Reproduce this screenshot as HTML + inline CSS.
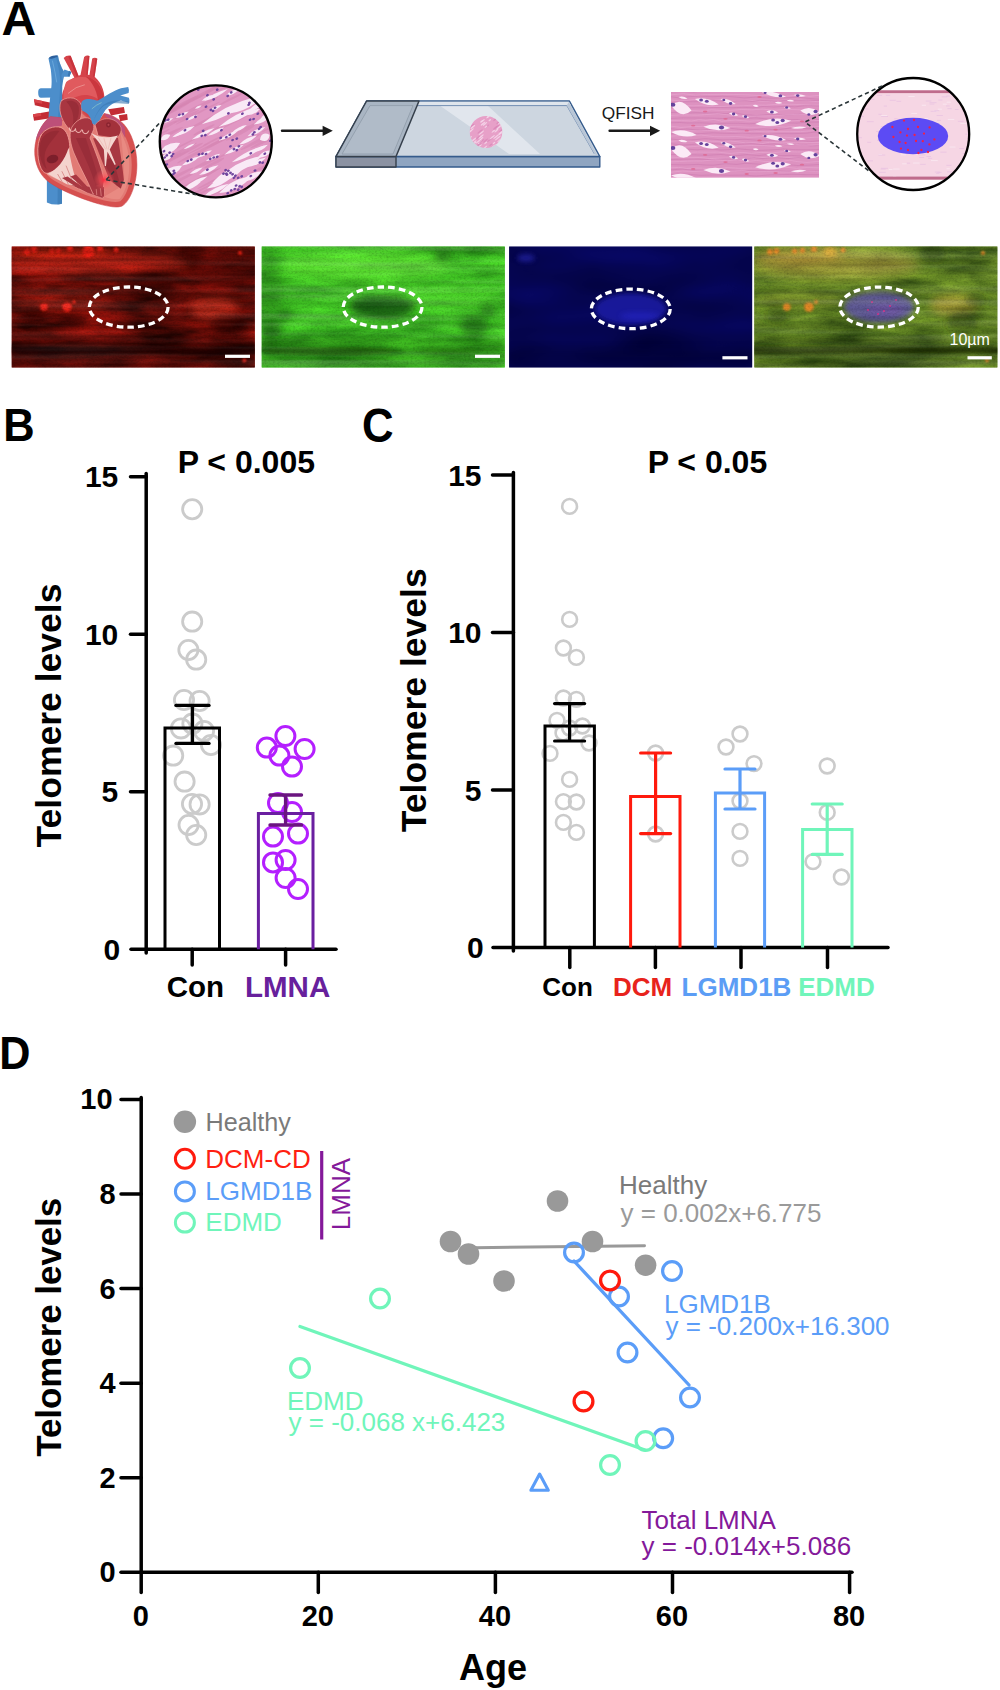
<!DOCTYPE html>
<html lang="en"><head><meta charset="utf-8"><title>Figure</title>
<style>
html,body{margin:0;padding:0;background:#fff;}
body{width:1000px;height:1690px;overflow:hidden;}
svg{display:block;font-family:"Liberation Sans", Arial, Helvetica, sans-serif;}
</style></head><body>
<svg width="1000" height="1690" viewBox="0 0 1000 1690">
<defs>
<clipPath id="c1clip"><circle cx="215.8" cy="141.4" r="56"/></clipPath><clipPath id="c2clip"><circle cx="913.2" cy="134" r="55.9"/></clipPath><clipPath id="trclip"><rect x="671" y="91.9" width="148" height="85.9"/></clipPath><clipPath id="smclip"><ellipse cx="486" cy="132" rx="16.3" ry="16"/></clipPath><clipPath id="fcr"><rect x="11.7" y="246.5" width="243.1" height="120.9"/></clipPath>
<clipPath id="fcg"><rect x="261.7" y="246.5" width="243.1" height="120.9"/></clipPath>
<clipPath id="fcb"><rect x="509.1" y="246.5" width="243.1" height="120.9"/></clipPath>
<clipPath id="fcm"><rect x="754.3" y="246.5" width="243.1" height="120.9"/></clipPath>
<filter id="nr" x="0" y="0" width="100%" height="100%" color-interpolation-filters="sRGB"><feTurbulence type="fractalNoise" baseFrequency="0.016 0.07" numOctaves="4" seed="4" result="n"/><feColorMatrix in="n" type="matrix" values="0.85 0 0 0 -0.03  0.10 0 0 0 0.0  0.06 0 0 0 0.0  0 0 0 0 1"/></filter>
<filter id="ng" x="0" y="0" width="100%" height="100%" color-interpolation-filters="sRGB"><feTurbulence type="fractalNoise" baseFrequency="0.016 0.07" numOctaves="4" seed="9" result="n"/><feColorMatrix in="n" type="matrix" values="0.24 0 0 0 0.13  0.52 0 0 0 0.50  0.12 0 0 0 0.08  0 0 0 0 1"/></filter>
<filter id="nb" x="0" y="0" width="100%" height="100%" color-interpolation-filters="sRGB"><feTurbulence type="fractalNoise" baseFrequency="0.01 0.03" numOctaves="2" seed="2" result="n"/><feColorMatrix in="n" type="matrix" values="0.04 0 0 0 0  0.04 0 0 0 0  0.3 0 0 0 0.17  0 0 0 0 1"/></filter>
<filter id="nm" x="0" y="0" width="100%" height="100%" color-interpolation-filters="sRGB"><feTurbulence type="fractalNoise" baseFrequency="0.016 0.07" numOctaves="4" seed="4" result="n"/><feColorMatrix in="n" type="matrix" values="0.55 0 0 0 0.11  0.62 0 0 0 0.21  0.18 0 0 0 0.05  0 0 0 0 1"/></filter>
<filter id="grain" x="0" y="0" width="100%" height="100%"><feTurbulence type="fractalNoise" baseFrequency="0.45 0.6" numOctaves="2" seed="8" result="n"/><feColorMatrix in="n" type="matrix" values="0 0 0 0 0  0 0 0 0 0  0 0 0 0 0  1.2 0 0 0 -0.5"/></filter>
<filter id="streak" x="0" y="0" width="100%" height="100%"><feTurbulence type="fractalNoise" baseFrequency="0.004 0.17" numOctaves="2" seed="21" result="n"/><feColorMatrix in="n" type="matrix" values="0 0 0 0 0  0 0 0 0 0  0 0 0 0 0  2.2 0 0 0 -0.95"/></filter>
<filter id="streakw" x="0" y="0" width="100%" height="100%"><feTurbulence type="fractalNoise" baseFrequency="0.004 0.15" numOctaves="2" seed="33" result="n"/><feColorMatrix in="n" type="matrix" values="0 0 0 0 1  0 0 0 0 1  0 0 0 0 1  2.2 0 0 0 -0.95"/></filter>
<filter id="bl1_2" x="-50%" y="-50%" width="200%" height="200%"><feGaussianBlur stdDeviation="1.2"/></filter>
<filter id="bl2_5" x="-50%" y="-50%" width="200%" height="200%"><feGaussianBlur stdDeviation="2.5"/></filter>
<filter id="bl4" x="-50%" y="-50%" width="200%" height="200%"><feGaussianBlur stdDeviation="4"/></filter>
<filter id="bl6" x="-50%" y="-50%" width="200%" height="200%"><feGaussianBlur stdDeviation="6"/></filter>
<radialGradient id="glow"><stop offset="0" stop-color="#ff2a3c" stop-opacity="0.95"/><stop offset="0.35" stop-color="#ff4a55" stop-opacity="0.55"/><stop offset="1" stop-color="#ff6a6a" stop-opacity="0"/></radialGradient>
</defs>
<rect width="1000" height="1690" fill="#fff"/>
<g id="panelA">
<text x="1.6" y="34.8" font-size="48" fill="#000" font-weight="700">A</text>
<g transform="translate(20,40) scale(0.14)" stroke-linejoin="round" stroke-linecap="round">
<path d="M100 424 L240 452 L236 496 L106 466Z" fill="#c32c34"/>
<path d="M93 530 L240 506 L240 556 L100 576Z" fill="#c32c34"/>
<path d="M100 424 L160 436 L158 456 L103 444Z M93 530 L150 521 L152 541 L96 551Z" fill="#d8444a"/>
<path d="M630 495 L742 478 L750 520 L650 540Z" fill="#c32c34"/>
<path d="M705 538 L765 528 L770 570 L715 580Z" fill="#c32c34"/>
<path d="M148 344 Q128 346 130 378 Q130 412 150 413 L232 410 L232 344Z" fill="#4c8ecb"/>
<path d="M312 128 Q330 108 362 112 L418 256 L432 250 L458 122 Q476 106 496 114 L484 248 L496 250 L516 132 Q534 120 552 134 L533 262 C590 310 612 390 600 450 L560 560 L300 580 L296 420 C302 360 330 300 388 268 Z" fill="#d5434a"/>
<path d="M330 300 C380 262 480 250 540 290 C590 330 600 400 580 440 C540 400 470 380 420 400 C380 410 340 440 315 470 C305 410 310 340 330 300Z" fill="#e05a5e"/>
<path d="M470 262 C540 270 590 330 598 420 L560 470 C560 380 520 300 470 262Z" fill="#c32c34" opacity="0.75"/>
<path d="M345 118 L362 112 L418 256 L405 262Z M484 112 L496 114 L484 248 L474 250Z M540 126 L552 134 L533 262 L522 262Z" fill="#c32c34" opacity="0.7"/>
<path d="M345 380 Q400 330 460 320" fill="none" stroke="#f3b3ae" stroke-width="4"/>
<path d="M203 130 L271 111 C278 150 290 190 318 233 C312 270 305 300 302 330 L300 560 L204 560 C206 500 214 420 220 370 C228 320 228 280 220 210 Z" fill="#4c8ecb"/>
<path d="M271 111 C278 150 290 190 318 233 C312 270 303 300 300 330 L296 560 L272 560 C276 480 286 380 288 300 C286 230 268 170 255 116Z" fill="#3a78b3" opacity="0.45"/>
<ellipse cx="238" cy="121" rx="32" ry="9" fill="#2c5f9c" transform="rotate(-15 238 121)"/>
<path d="M296 250 L318 211 L366 228 L353 263 L310 262 L300 300Z" fill="#4c8ecb"/>
<path d="M350 220 L366 228 L353 263 L340 255Z" fill="#3a78b3"/>
<path d="M232 150 Q252 230 262 300" fill="none" stroke="#7db9e6" stroke-width="4"/>
<path d="M192 990 L300 1040 L300 1170 Q245 1185 192 1160Z" fill="#4c8ecb"/>
<path d="M270 1025 L300 1040 L300 1170 L268 1176Z" fill="#3a78b3" opacity="0.6"/>
<path d="M215 548 C160 590 108 680 105 790 C103 880 140 960 195 1005 C260 1060 420 1130 560 1170 C640 1192 700 1200 730 1185 C790 1150 835 1020 835 890 C835 770 795 660 740 600 C700 560 650 530 600 525 L545 605 L440 500 L300 555Z" fill="#d6504f" stroke="#cc4348" stroke-width="4"/>
<path d="M700 612 C760 680 798 780 798 890 C798 1010 760 1118 716 1152 C690 1163 640 1158 570 1138 C430 1098 285 1035 218 985 C166 945 128 870 130 790 C133 700 175 625 228 585 L300 580 L440 520 L545 620 L612 560Z" fill="#e27b75"/>
<path d="M718 660 C765 740 785 830 780 920 C775 1020 745 1100 712 1135 C680 1140 640 1135 600 1120 L700 1060 L745 990 C740 860 732 760 718 660Z" fill="#ea8d85" opacity="0.85"/>
<path d="M215 548 C165 588 125 650 112 720 L170 650 L300 610 L300 555Z" fill="#bd5079"/>
<path d="M600 525 C660 535 720 575 748 625 L752 700 L700 600 L615 548Z" fill="#bd5079"/>
<path d="M150 680 C175 635 245 608 292 625 C335 642 352 700 356 762 C350 850 300 922 200 952 C160 960 135 900 128 820 C122 760 135 712 150 680Z" fill="#a3313b" stroke="#f2a39c" stroke-width="6"/>
<path d="M160 700 C185 660 240 640 280 650 C250 700 200 740 180 800 C170 840 175 880 190 920 C160 900 140 840 140 790 C140 750 148 722 160 700Z" fill="#8a2430" opacity="0.55"/>
<ellipse cx="232" cy="850" rx="42" ry="30" fill="#7c1f2b" transform="rotate(-15 232 850)"/>
<path d="M195 958 C300 1010 400 1050 480 1092 L592 1132 L604 1068 L540 1048 L420 1040 L250 985Z" fill="#a93842" stroke="#f2a39c" stroke-width="4"/>
<path d="M347 770 C322 860 262 930 195 956 L255 988 L335 1030 L415 1042 C382 960 362 860 347 770Z" fill="#f4d3cd"/>
<path d="M300 940 L345 1030 M330 900 L385 1035 M270 960 L300 1010" stroke="#d9908d" stroke-width="7" fill="none"/>
<path d="M300 985 L420 1060 L440 1045 L340 975Z M360 975 L470 1070 L490 1058 L400 960Z" fill="#a93842"/>
<path d="M300 430 C350 398 420 410 440 470 C450 540 420 620 372 652 C322 620 282 540 285 482 C285 456 290 440 300 430Z" fill="#a93641" stroke="#f2a39c" stroke-width="5"/>
<path d="M330 440 C370 425 410 440 420 480 C425 540 405 590 375 620 C390 560 380 490 330 440Z" fill="#8a2430" opacity="0.5"/>
<path d="M362 640 C382 590 432 550 482 556 C522 562 532 600 526 640 L500 700 C540 800 580 900 602 1000 L592 1082 L522 1100 C482 1000 422 900 382 800 C360 740 352 690 362 640Z" fill="#a63540" stroke="#f2a39c" stroke-width="5"/>
<path d="M400 700 C440 800 500 900 540 1040 L570 1030 C540 900 500 800 470 700Z" fill="#8a2430" opacity="0.45"/>
<path d="M352 628 A22 22 0 0 0 396 634 M396 636 A22 22 0 0 0 440 642 M446 644 A22 22 0 0 0 490 650" fill="none" stroke="#f4bdb8" stroke-width="7"/>
<path d="M438 452 C445 425 470 420 500 422 C530 426 545 436 560 430 C610 400 670 360 721 344 L773 336 Q782 356 776 378 L716 396 L778 412 Q786 432 780 450 L721 432 C680 440 640 464 610 500 C590 530 570 570 548 614 L516 596 C510 560 490 520 445 505 Q432 480 438 452Z" fill="#4c8ecb"/>
<path d="M520 592 C530 560 560 500 600 470 C640 450 680 450 700 452 L778 458 L780 440 L700 432 C650 430 600 450 570 490 C545 525 530 560 520 592Z" fill="#3a78b3" opacity="0.6"/>
<path d="M515 490 Q545 462 580 448" fill="none" stroke="#9fd6c9" stroke-width="4"/>
<path d="M538 604 C580 545 680 545 720 622 C730 660 704 690 690 702 L560 684Z" fill="#a3313b" stroke="#f2a39c" stroke-width="4"/>
<ellipse cx="632" cy="606" rx="17" ry="19" fill="#8a2430"/><ellipse cx="632" cy="606" rx="7" ry="8" fill="#b54650"/>
<path d="M522 702 C560 800 600 900 640 1000 L720 1062 L742 1000 C732 900 716 800 700 700Z" fill="#a83842"/>
<path d="M600 860 C620 920 650 980 690 1040 L722 1058 C700 980 680 900 660 840Z" fill="#8a2430" opacity="0.5"/>
<path d="M508 664 C559 696 621 704 700 682 C676 719 653 759 641 782 L684 888 L676 892 L625 798 L614 900 L606 900 L599 782 C574 743 543 704 508 664Z" fill="#f5d6d0"/>
<path d="M560 700 L612 780 M650 700 L630 780 M600 704 L620 775" stroke="#eab5af" stroke-width="5" fill="none"/>
<path d="M520 1060 L600 1050 L600 1120 L530 1105Z" fill="#a93842"/><path d="M545 1068 L548 1105 M575 1062 L580 1112" stroke="#f2a39c" stroke-width="4"/>
<circle cx="600" cy="1000" r="75" fill="url(#glow)"/>
</g>
<g clip-path="url(#c1clip)">
<rect x="155" y="80" width="125" height="125" fill="#e197c3"/>
<ellipse cx="195.5" cy="98.9" rx="21.7" ry="0.9" fill="#d585b3" opacity="0.6" transform="rotate(-27 195.5 98.9)"/>
<ellipse cx="222.0" cy="125.7" rx="11.0" ry="1.3" fill="#d585b3" opacity="0.6" transform="rotate(-27 222.0 125.7)"/>
<ellipse cx="159.7" cy="134.2" rx="11.3" ry="0.9" fill="#d585b3" opacity="0.6" transform="rotate(-27 159.7 134.2)"/>
<ellipse cx="208.1" cy="183.4" rx="12.2" ry="1.0" fill="#d585b3" opacity="0.6" transform="rotate(-27 208.1 183.4)"/>
<ellipse cx="233.4" cy="198.5" rx="20.4" ry="1.2" fill="#d585b3" opacity="0.6" transform="rotate(-27 233.4 198.5)"/>
<ellipse cx="277.0" cy="85.8" rx="25.5" ry="1.1" fill="#d585b3" opacity="0.6" transform="rotate(-27 277.0 85.8)"/>
<ellipse cx="173.0" cy="94.7" rx="15.6" ry="1.6" fill="#d585b3" opacity="0.6" transform="rotate(-27 173.0 94.7)"/>
<ellipse cx="177.6" cy="152.7" rx="21.5" ry="1.2" fill="#d585b3" opacity="0.6" transform="rotate(-27 177.6 152.7)"/>
<ellipse cx="223.5" cy="87.8" rx="11.1" ry="1.0" fill="#d585b3" opacity="0.6" transform="rotate(-27 223.5 87.8)"/>
<ellipse cx="240.0" cy="133.4" rx="15.7" ry="1.4" fill="#d585b3" opacity="0.6" transform="rotate(-27 240.0 133.4)"/>
<ellipse cx="211.6" cy="117.5" rx="24.3" ry="1.5" fill="#d585b3" opacity="0.6" transform="rotate(-27 211.6 117.5)"/>
<ellipse cx="185.5" cy="151.8" rx="19.5" ry="1.7" fill="#d585b3" opacity="0.6" transform="rotate(-27 185.5 151.8)"/>
<ellipse cx="246.2" cy="116.0" rx="27.6" ry="0.9" fill="#d585b3" opacity="0.6" transform="rotate(-27 246.2 116.0)"/>
<ellipse cx="207.3" cy="174.6" rx="12.7" ry="1.3" fill="#d585b3" opacity="0.6" transform="rotate(-27 207.3 174.6)"/>
<ellipse cx="159.9" cy="163.5" rx="23.8" ry="1.4" fill="#d585b3" opacity="0.6" transform="rotate(-27 159.9 163.5)"/>
<ellipse cx="264.4" cy="119.2" rx="22.5" ry="1.4" fill="#d585b3" opacity="0.6" transform="rotate(-27 264.4 119.2)"/>
<ellipse cx="227.5" cy="137.0" rx="25.1" ry="1.7" fill="#d585b3" opacity="0.6" transform="rotate(-27 227.5 137.0)"/>
<ellipse cx="214.3" cy="163.0" rx="11.1" ry="1.5" fill="#d585b3" opacity="0.6" transform="rotate(-27 214.3 163.0)"/>
<ellipse cx="235.9" cy="204.1" rx="24.8" ry="1.1" fill="#d585b3" opacity="0.6" transform="rotate(-27 235.9 204.1)"/>
<ellipse cx="203.2" cy="163.6" rx="10.4" ry="1.3" fill="#d585b3" opacity="0.6" transform="rotate(-27 203.2 163.6)"/>
<ellipse cx="176.0" cy="94.6" rx="11.1" ry="1.6" fill="#d585b3" opacity="0.6" transform="rotate(-27 176.0 94.6)"/>
<ellipse cx="171.2" cy="111.0" rx="17.0" ry="1.7" fill="#d585b3" opacity="0.6" transform="rotate(-27 171.2 111.0)"/>
<ellipse cx="165.1" cy="136.1" rx="19.9" ry="1.7" fill="#d585b3" opacity="0.6" transform="rotate(-27 165.1 136.1)"/>
<ellipse cx="257.4" cy="188.0" rx="15.0" ry="1.2" fill="#d585b3" opacity="0.6" transform="rotate(-27 257.4 188.0)"/>
<ellipse cx="199.8" cy="190.5" rx="27.2" ry="1.0" fill="#d585b3" opacity="0.6" transform="rotate(-27 199.8 190.5)"/>
<ellipse cx="177.0" cy="109.0" rx="14.2" ry="1.3" fill="#d585b3" opacity="0.6" transform="rotate(-27 177.0 109.0)"/>
<ellipse cx="228.6" cy="112.8" rx="10.1" ry="1.2" fill="#d585b3" opacity="0.6" transform="rotate(-27 228.6 112.8)"/>
<ellipse cx="201.2" cy="150.8" rx="27.2" ry="1.5" fill="#d585b3" opacity="0.6" transform="rotate(-27 201.2 150.8)"/>
<ellipse cx="219.4" cy="157.2" rx="22.2" ry="0.9" fill="#d585b3" opacity="0.6" transform="rotate(-27 219.4 157.2)"/>
<ellipse cx="267.4" cy="177.5" rx="25.7" ry="1.6" fill="#d585b3" opacity="0.6" transform="rotate(-27 267.4 177.5)"/>
<ellipse cx="204.0" cy="129.9" rx="11.9" ry="1.4" fill="#d585b3" opacity="0.6" transform="rotate(-27 204.0 129.9)"/>
<ellipse cx="162.8" cy="88.4" rx="13.8" ry="1.0" fill="#d585b3" opacity="0.6" transform="rotate(-27 162.8 88.4)"/>
<ellipse cx="197.5" cy="86.6" rx="10.0" ry="1.0" fill="#d585b3" opacity="0.6" transform="rotate(-27 197.5 86.6)"/>
<ellipse cx="167.7" cy="125.5" rx="10.5" ry="1.7" fill="#d585b3" opacity="0.6" transform="rotate(-27 167.7 125.5)"/>
<ellipse cx="231.8" cy="98.6" rx="14.5" ry="1.1" fill="#d585b3" opacity="0.6" transform="rotate(-27 231.8 98.6)"/>
<ellipse cx="200.5" cy="95.4" rx="25.3" ry="1.8" fill="#d585b3" opacity="0.6" transform="rotate(-27 200.5 95.4)"/>
<ellipse cx="213.2" cy="140.5" rx="11.5" ry="0.9" fill="#d585b3" opacity="0.6" transform="rotate(-27 213.2 140.5)"/>
<ellipse cx="197.8" cy="113.1" rx="24.9" ry="1.0" fill="#d585b3" opacity="0.6" transform="rotate(-27 197.8 113.1)"/>
<ellipse cx="157.9" cy="198.9" rx="19.5" ry="0.9" fill="#d585b3" opacity="0.6" transform="rotate(-27 157.9 198.9)"/>
<ellipse cx="222.9" cy="83.4" rx="19.5" ry="1.8" fill="#d585b3" opacity="0.6" transform="rotate(-27 222.9 83.4)"/>
<ellipse cx="262.9" cy="167.0" rx="14.7" ry="1.2" fill="#d585b3" opacity="0.6" transform="rotate(-27 262.9 167.0)"/>
<ellipse cx="175.9" cy="176.5" rx="19.6" ry="1.6" fill="#d585b3" opacity="0.6" transform="rotate(-27 175.9 176.5)"/>
<ellipse cx="196.2" cy="107.9" rx="24.6" ry="1.8" fill="#d585b3" opacity="0.6" transform="rotate(-27 196.2 107.9)"/>
<ellipse cx="261.6" cy="180.8" rx="24.7" ry="1.5" fill="#d585b3" opacity="0.6" transform="rotate(-27 261.6 180.8)"/>
<ellipse cx="183.3" cy="144.7" rx="16.4" ry="0.8" fill="#d585b3" opacity="0.6" transform="rotate(-27 183.3 144.7)"/>
<ellipse cx="158.5" cy="114.9" rx="14.7" ry="1.5" fill="#d585b3" opacity="0.6" transform="rotate(-27 158.5 114.9)"/>
<ellipse cx="274.6" cy="135.9" rx="26.9" ry="1.8" fill="#d585b3" opacity="0.6" transform="rotate(-27 274.6 135.9)"/>
<ellipse cx="274.4" cy="125.6" rx="14.0" ry="1.0" fill="#d585b3" opacity="0.6" transform="rotate(-27 274.4 125.6)"/>
<ellipse cx="179.6" cy="105.5" rx="21.2" ry="1.7" fill="#d585b3" opacity="0.6" transform="rotate(-27 179.6 105.5)"/>
<ellipse cx="260.1" cy="139.9" rx="21.8" ry="1.6" fill="#d585b3" opacity="0.6" transform="rotate(-27 260.1 139.9)"/>
<ellipse cx="165.6" cy="162.6" rx="26.4" ry="1.6" fill="#d585b3" opacity="0.6" transform="rotate(-27 165.6 162.6)"/>
<ellipse cx="248.8" cy="139.8" rx="13.2" ry="1.6" fill="#d585b3" opacity="0.6" transform="rotate(-27 248.8 139.8)"/>
<ellipse cx="196.6" cy="180.1" rx="27.5" ry="1.2" fill="#d585b3" opacity="0.6" transform="rotate(-27 196.6 180.1)"/>
<ellipse cx="205.2" cy="198.3" rx="23.0" ry="1.0" fill="#d585b3" opacity="0.6" transform="rotate(-27 205.2 198.3)"/>
<ellipse cx="170.9" cy="98.9" rx="26.3" ry="1.6" fill="#d585b3" opacity="0.6" transform="rotate(-27 170.9 98.9)"/>
<ellipse cx="173.3" cy="183.3" rx="27.6" ry="1.5" fill="#d585b3" opacity="0.6" transform="rotate(-27 173.3 183.3)"/>
<ellipse cx="198.8" cy="148.6" rx="12.4" ry="0.8" fill="#d585b3" opacity="0.6" transform="rotate(-27 198.8 148.6)"/>
<ellipse cx="276.4" cy="161.2" rx="19.5" ry="1.7" fill="#d585b3" opacity="0.6" transform="rotate(-27 276.4 161.2)"/>
<ellipse cx="209.2" cy="189.0" rx="24.9" ry="1.0" fill="#d585b3" opacity="0.6" transform="rotate(-27 209.2 189.0)"/>
<ellipse cx="186.5" cy="116.6" rx="14.3" ry="1.4" fill="#d585b3" opacity="0.6" transform="rotate(-27 186.5 116.6)"/>
<path d="M-30.0 0 Q0 -7.0 30.0 0 Q0 7.0 -30.0 0Z" fill="#f9e9f6" transform="translate(228.4 110.6) rotate(-27)"/>
<path d="M-18.2 0 Q0 -6.0 18.2 0 Q0 6.0 -18.2 0Z" fill="#f9e9f6" transform="translate(246.6 105.0) rotate(-27)"/>
<path d="M-23.6 0 Q0 -5.5 23.6 0 Q0 5.5 -23.6 0Z" fill="#f9e9f6" transform="translate(239.6 116.2) rotate(-27)"/>
<path d="M-13.6 0 Q0 -3.5 13.6 0 Q0 3.5 -13.6 0Z" fill="#f9e9f6" transform="translate(215.8 95.2) rotate(-27)"/>
<path d="M-7.3 0 Q0 -3.5 7.3 0 Q0 3.5 -7.3 0Z" fill="#f9e9f6" transform="translate(232.6 92.4) rotate(-27)"/>
<path d="M-6.4 0 Q0 -2.5 6.4 0 Q0 2.5 -6.4 0Z" fill="#f9e9f6" transform="translate(207.4 98.0) rotate(-27)"/>
<path d="M-7.3 0 Q0 -3.0 7.3 0 Q0 3.0 -7.3 0Z" fill="#f9e9f6" transform="translate(182.2 114.8) rotate(-27)"/>
<path d="M-6.4 0 Q0 -2.5 6.4 0 Q0 2.5 -6.4 0Z" fill="#f9e9f6" transform="translate(192.0 117.6) rotate(-27)"/>
<path d="M-5.5 0 Q0 -2.5 5.5 0 Q0 2.5 -5.5 0Z" fill="#f9e9f6" transform="translate(168.2 120.4) rotate(-27)"/>
<path d="M-10.9 0 Q0 -4.0 10.9 0 Q0 4.0 -10.9 0Z" fill="#f9e9f6" transform="translate(185.0 130.9) rotate(-27)"/>
<path d="M-12.7 0 Q0 -3.5 12.7 0 Q0 3.5 -12.7 0Z" fill="#f9e9f6" transform="translate(203.2 133.7) rotate(-27)"/>
<path d="M-9.1 0 Q0 -3.0 9.1 0 Q0 3.0 -9.1 0Z" fill="#f9e9f6" transform="translate(215.8 131.6) rotate(-27)"/>
<path d="M-10.9 0 Q0 -3.5 10.9 0 Q0 3.5 -10.9 0Z" fill="#f9e9f6" transform="translate(228.4 135.8) rotate(-27)"/>
<path d="M-8.2 0 Q0 -3.0 8.2 0 Q0 3.0 -8.2 0Z" fill="#f9e9f6" transform="translate(239.6 128.8) rotate(-27)"/>
<path d="M-10.0 0 Q0 -4.0 10.0 0 Q0 4.0 -10.0 0Z" fill="#f9e9f6" transform="translate(256.4 131.6) rotate(-27)"/>
<path d="M-9.1 0 Q0 -4.0 9.1 0 Q0 4.0 -9.1 0Z" fill="#f9e9f6" transform="translate(262.0 120.4) rotate(-27)"/>
<path d="M-7.3 0 Q0 -3.5 7.3 0 Q0 3.5 -7.3 0Z" fill="#f9e9f6" transform="translate(253.6 112.0) rotate(-27)"/>
<path d="M-11.8 0 Q0 -8.5 11.8 0 Q0 8.5 -11.8 0Z" fill="#f9e9f6" transform="translate(169.6 148.4) rotate(-27)"/>
<path d="M-8.2 0 Q0 -6.5 8.2 0 Q0 6.5 -8.2 0Z" fill="#f9e9f6" transform="translate(166.8 156.8) rotate(-27)"/>
<path d="M-10.9 0 Q0 -7.5 10.9 0 Q0 7.5 -10.9 0Z" fill="#f9e9f6" transform="translate(172.4 170.8) rotate(-27)"/>
<path d="M-10.0 0 Q0 -3.5 10.0 0 Q0 3.5 -10.0 0Z" fill="#f9e9f6" transform="translate(190.6 161.0) rotate(-27)"/>
<path d="M-8.2 0 Q0 -3.0 8.2 0 Q0 3.0 -8.2 0Z" fill="#f9e9f6" transform="translate(204.6 154.0) rotate(-27)"/>
<path d="M-8.2 0 Q0 -3.0 8.2 0 Q0 3.0 -8.2 0Z" fill="#f9e9f6" transform="translate(213.0 157.5) rotate(-27)"/>
<path d="M-10.9 0 Q0 -4.0 10.9 0 Q0 4.0 -10.9 0Z" fill="#f9e9f6" transform="translate(208.8 170.1) rotate(-27)"/>
<path d="M-10.9 0 Q0 -3.5 10.9 0 Q0 3.5 -10.9 0Z" fill="#f9e9f6" transform="translate(234.0 149.8) rotate(-27)"/>
<path d="M-18.2 0 Q0 -4.5 18.2 0 Q0 4.5 -18.2 0Z" fill="#f9e9f6" transform="translate(248.0 154.0) rotate(-27)"/>
<path d="M-8.2 0 Q0 -3.5 8.2 0 Q0 3.5 -8.2 0Z" fill="#f9e9f6" transform="translate(260.6 148.4) rotate(-27)"/>
<path d="M-23.6 0 Q0 -7.5 23.6 0 Q0 7.5 -23.6 0Z" fill="#f9e9f6" transform="translate(241.0 166.6) rotate(-27)"/>
<path d="M-18.2 0 Q0 -8.5 18.2 0 Q0 8.5 -18.2 0Z" fill="#f9e9f6" transform="translate(228.4 175.0) rotate(-27)"/>
<path d="M-10.9 0 Q0 -4.0 10.9 0 Q0 4.0 -10.9 0Z" fill="#f9e9f6" transform="translate(256.4 162.4) rotate(-27)"/>
<path d="M-18.2 0 Q0 -7.5 18.2 0 Q0 7.5 -18.2 0Z" fill="#f9e9f6" transform="translate(235.4 184.8) rotate(-27)"/>
<path d="M-12.7 0 Q0 -4.0 12.7 0 Q0 4.0 -12.7 0Z" fill="#f9e9f6" transform="translate(196.2 182.0) rotate(-27)"/>
<path d="M-10.0 0 Q0 -3.5 10.0 0 Q0 3.5 -10.0 0Z" fill="#f9e9f6" transform="translate(192.0 186.2) rotate(-27)"/>
<path d="M-14.5 0 Q0 -4.5 14.5 0 Q0 4.5 -14.5 0Z" fill="#f9e9f6" transform="translate(215.8 190.4) rotate(-27)"/>
<path d="M-5.5 0 Q0 -7.5 5.5 0 Q0 7.5 -5.5 0Z" fill="#f9e9f6" transform="translate(264.8 137.2) rotate(-27)"/>
<path d="M-6.4 0 Q0 -2.0 6.4 0 Q0 2.0 -6.4 0Z" fill="#f9e9f6" transform="translate(189.2 146.3) rotate(-27)"/>
<path d="M-3.6 0 Q0 -2.0 3.6 0 Q0 2.0 -3.6 0Z" fill="#f9e9f6" transform="translate(198.3 107.1) rotate(-27)"/>
<path d="M-6.4 0 Q0 -3.0 6.4 0 Q0 3.0 -6.4 0Z" fill="#f9e9f6" transform="translate(215.8 107.8) rotate(-27)"/>
<path d="M-10.9 0 Q0 -5.0 10.9 0 Q0 5.0 -10.9 0Z" fill="#f9e9f6" transform="translate(259.2 105.0) rotate(-27)"/>
<path d="M-6.4 0 Q0 -4.5 6.4 0 Q0 4.5 -6.4 0Z" fill="#f9e9f6" transform="translate(266.2 116.2) rotate(-27)"/>
<path d="M-10.0 0 Q0 -3.5 10.0 0 Q0 3.5 -10.0 0Z" fill="#f9e9f6" transform="translate(248.0 140.0) rotate(-27)"/>
<path d="M-8.2 0 Q0 -4.5 8.2 0 Q0 4.5 -8.2 0Z" fill="#f9e9f6" transform="translate(264.8 154.0) rotate(-27)"/>
<path d="M-10.9 0 Q0 -5.5 10.9 0 Q0 5.5 -10.9 0Z" fill="#f9e9f6" transform="translate(252.2 176.4) rotate(-27)"/>
<path d="M-14.5 0 Q0 -5.5 14.5 0 Q0 5.5 -14.5 0Z" fill="#f9e9f6" transform="translate(220.0 182.0) rotate(-27)"/>
<path d="M-6.4 0 Q0 -2.5 6.4 0 Q0 2.5 -6.4 0Z" fill="#f9e9f6" transform="translate(178.0 134.4) rotate(-27)"/>
<path d="M-7.3 0 Q0 -3.0 7.3 0 Q0 3.0 -7.3 0Z" fill="#f9e9f6" transform="translate(196.2 170.8) rotate(-27)"/>
<path d="M-5.5 0 Q0 -5.0 5.5 0 Q0 5.0 -5.5 0Z" fill="#f9e9f6" transform="translate(165.4 137.2) rotate(-27)"/>
<ellipse cx="198.3" cy="89.6" rx="1.5" ry="1.2" fill="#70459e" transform="rotate(-27 198.3 89.6)"/>
<ellipse cx="217.2" cy="89.6" rx="1.5" ry="1.2" fill="#70459e" transform="rotate(-27 217.2 89.6)"/>
<ellipse cx="231.2" cy="92.4" rx="1.5" ry="1.2" fill="#70459e" transform="rotate(-27 231.2 92.4)"/>
<ellipse cx="227.7" cy="95.9" rx="1.5" ry="1.2" fill="#70459e" transform="rotate(-27 227.7 95.9)"/>
<ellipse cx="207.4" cy="95.2" rx="1.5" ry="1.2" fill="#70459e" transform="rotate(-27 207.4 95.2)"/>
<ellipse cx="213.7" cy="99.4" rx="1.5" ry="1.2" fill="#70459e" transform="rotate(-27 213.7 99.4)"/>
<ellipse cx="249.4" cy="102.9" rx="1.5" ry="1.2" fill="#70459e" transform="rotate(-27 249.4 102.9)"/>
<ellipse cx="248.7" cy="104.7" rx="1.5" ry="1.2" fill="#70459e" transform="rotate(-27 248.7 104.7)"/>
<ellipse cx="206.0" cy="106.7" rx="1.5" ry="1.2" fill="#70459e" transform="rotate(-27 206.0 106.7)"/>
<ellipse cx="210.9" cy="109.9" rx="1.5" ry="1.2" fill="#70459e" transform="rotate(-27 210.9 109.9)"/>
<ellipse cx="215.1" cy="107.8" rx="1.5" ry="1.2" fill="#70459e" transform="rotate(-27 215.1 107.8)"/>
<ellipse cx="213.0" cy="110.9" rx="1.5" ry="1.2" fill="#70459e" transform="rotate(-27 213.0 110.9)"/>
<ellipse cx="228.4" cy="113.4" rx="1.5" ry="1.2" fill="#70459e" transform="rotate(-27 228.4 113.4)"/>
<ellipse cx="242.4" cy="113.7" rx="1.5" ry="1.2" fill="#70459e" transform="rotate(-27 242.4 113.7)"/>
<ellipse cx="257.8" cy="113.7" rx="1.5" ry="1.2" fill="#70459e" transform="rotate(-27 257.8 113.7)"/>
<ellipse cx="182.9" cy="114.1" rx="1.5" ry="1.2" fill="#70459e" transform="rotate(-27 182.9 114.1)"/>
<ellipse cx="179.4" cy="114.8" rx="1.5" ry="1.2" fill="#70459e" transform="rotate(-27 179.4 114.8)"/>
<ellipse cx="195.5" cy="116.9" rx="1.5" ry="1.2" fill="#70459e" transform="rotate(-27 195.5 116.9)"/>
<ellipse cx="187.1" cy="119.0" rx="1.5" ry="1.2" fill="#70459e" transform="rotate(-27 187.1 119.0)"/>
<ellipse cx="168.2" cy="119.7" rx="1.5" ry="1.2" fill="#70459e" transform="rotate(-27 168.2 119.7)"/>
<ellipse cx="165.4" cy="120.4" rx="1.5" ry="1.2" fill="#70459e" transform="rotate(-27 165.4 120.4)"/>
<ellipse cx="253.6" cy="119.0" rx="1.5" ry="1.2" fill="#70459e" transform="rotate(-27 253.6 119.0)"/>
<ellipse cx="250.1" cy="119.7" rx="1.5" ry="1.2" fill="#70459e" transform="rotate(-27 250.1 119.7)"/>
<ellipse cx="260.6" cy="127.1" rx="1.5" ry="1.2" fill="#70459e" transform="rotate(-27 260.6 127.1)"/>
<ellipse cx="259.2" cy="128.8" rx="1.5" ry="1.2" fill="#70459e" transform="rotate(-27 259.2 128.8)"/>
<ellipse cx="254.3" cy="132.3" rx="1.5" ry="1.2" fill="#70459e" transform="rotate(-27 254.3 132.3)"/>
<ellipse cx="252.9" cy="134.4" rx="1.5" ry="1.2" fill="#70459e" transform="rotate(-27 252.9 134.4)"/>
<ellipse cx="185.0" cy="130.2" rx="1.5" ry="1.2" fill="#70459e" transform="rotate(-27 185.0 130.2)"/>
<ellipse cx="203.2" cy="130.9" rx="1.5" ry="1.2" fill="#70459e" transform="rotate(-27 203.2 130.9)"/>
<ellipse cx="221.4" cy="130.2" rx="1.5" ry="1.2" fill="#70459e" transform="rotate(-27 221.4 130.2)"/>
<ellipse cx="205.3" cy="135.1" rx="1.5" ry="1.2" fill="#70459e" transform="rotate(-27 205.3 135.1)"/>
<ellipse cx="201.8" cy="135.8" rx="1.5" ry="1.2" fill="#70459e" transform="rotate(-27 201.8 135.8)"/>
<ellipse cx="229.8" cy="134.7" rx="1.5" ry="1.2" fill="#70459e" transform="rotate(-27 229.8 134.7)"/>
<ellipse cx="226.3" cy="137.2" rx="1.5" ry="1.2" fill="#70459e" transform="rotate(-27 226.3 137.2)"/>
<ellipse cx="220.7" cy="137.9" rx="1.5" ry="1.2" fill="#70459e" transform="rotate(-27 220.7 137.9)"/>
<ellipse cx="236.8" cy="138.6" rx="1.5" ry="1.2" fill="#70459e" transform="rotate(-27 236.8 138.6)"/>
<ellipse cx="232.6" cy="140.0" rx="1.5" ry="1.2" fill="#70459e" transform="rotate(-27 232.6 140.0)"/>
<ellipse cx="238.9" cy="146.3" rx="1.5" ry="1.2" fill="#70459e" transform="rotate(-27 238.9 146.3)"/>
<ellipse cx="234.0" cy="149.1" rx="1.5" ry="1.2" fill="#70459e" transform="rotate(-27 234.0 149.1)"/>
<ellipse cx="236.8" cy="150.1" rx="1.5" ry="1.2" fill="#70459e" transform="rotate(-27 236.8 150.1)"/>
<ellipse cx="230.5" cy="146.3" rx="1.5" ry="1.2" fill="#70459e" transform="rotate(-27 230.5 146.3)"/>
<ellipse cx="250.8" cy="153.3" rx="1.5" ry="1.2" fill="#70459e" transform="rotate(-27 250.8 153.3)"/>
<ellipse cx="264.8" cy="153.7" rx="1.5" ry="1.2" fill="#70459e" transform="rotate(-27 264.8 153.7)"/>
<ellipse cx="206.0" cy="154.0" rx="1.5" ry="1.2" fill="#70459e" transform="rotate(-27 206.0 154.0)"/>
<ellipse cx="202.5" cy="153.7" rx="1.5" ry="1.2" fill="#70459e" transform="rotate(-27 202.5 153.7)"/>
<ellipse cx="199.0" cy="154.4" rx="1.5" ry="1.2" fill="#70459e" transform="rotate(-27 199.0 154.4)"/>
<ellipse cx="169.6" cy="152.6" rx="1.5" ry="1.2" fill="#70459e" transform="rotate(-27 169.6 152.6)"/>
<ellipse cx="166.8" cy="155.4" rx="1.5" ry="1.2" fill="#70459e" transform="rotate(-27 166.8 155.4)"/>
<ellipse cx="164.7" cy="157.5" rx="1.5" ry="1.2" fill="#70459e" transform="rotate(-27 164.7 157.5)"/>
<ellipse cx="173.1" cy="154.0" rx="1.5" ry="1.2" fill="#70459e" transform="rotate(-27 173.1 154.0)"/>
<ellipse cx="171.7" cy="156.1" rx="1.5" ry="1.2" fill="#70459e" transform="rotate(-27 171.7 156.1)"/>
<ellipse cx="164.0" cy="151.2" rx="1.5" ry="1.2" fill="#70459e" transform="rotate(-27 164.0 151.2)"/>
<ellipse cx="191.3" cy="159.6" rx="1.5" ry="1.2" fill="#70459e" transform="rotate(-27 191.3 159.6)"/>
<ellipse cx="187.8" cy="161.0" rx="1.5" ry="1.2" fill="#70459e" transform="rotate(-27 187.8 161.0)"/>
<ellipse cx="210.2" cy="158.9" rx="1.5" ry="1.2" fill="#70459e" transform="rotate(-27 210.2 158.9)"/>
<ellipse cx="213.7" cy="157.5" rx="1.5" ry="1.2" fill="#70459e" transform="rotate(-27 213.7 157.5)"/>
<ellipse cx="217.2" cy="156.8" rx="1.5" ry="1.2" fill="#70459e" transform="rotate(-27 217.2 156.8)"/>
<ellipse cx="259.9" cy="162.4" rx="1.5" ry="1.2" fill="#70459e" transform="rotate(-27 259.9 162.4)"/>
<ellipse cx="262.7" cy="162.7" rx="1.5" ry="1.2" fill="#70459e" transform="rotate(-27 262.7 162.7)"/>
<ellipse cx="207.4" cy="169.7" rx="1.5" ry="1.2" fill="#70459e" transform="rotate(-27 207.4 169.7)"/>
<ellipse cx="173.8" cy="170.8" rx="1.5" ry="1.2" fill="#70459e" transform="rotate(-27 173.8 170.8)"/>
<ellipse cx="174.5" cy="172.9" rx="1.5" ry="1.2" fill="#70459e" transform="rotate(-27 174.5 172.9)"/>
<ellipse cx="173.1" cy="174.3" rx="1.5" ry="1.2" fill="#70459e" transform="rotate(-27 173.1 174.3)"/>
<ellipse cx="225.6" cy="170.1" rx="1.5" ry="1.2" fill="#70459e" transform="rotate(-27 225.6 170.1)"/>
<ellipse cx="228.4" cy="170.8" rx="1.5" ry="1.2" fill="#70459e" transform="rotate(-27 228.4 170.8)"/>
<ellipse cx="230.5" cy="172.9" rx="1.5" ry="1.2" fill="#70459e" transform="rotate(-27 230.5 172.9)"/>
<ellipse cx="223.5" cy="173.6" rx="1.5" ry="1.2" fill="#70459e" transform="rotate(-27 223.5 173.6)"/>
<ellipse cx="227.0" cy="174.7" rx="1.5" ry="1.2" fill="#70459e" transform="rotate(-27 227.0 174.7)"/>
<ellipse cx="232.6" cy="174.3" rx="1.5" ry="1.2" fill="#70459e" transform="rotate(-27 232.6 174.3)"/>
<ellipse cx="235.4" cy="175.7" rx="1.5" ry="1.2" fill="#70459e" transform="rotate(-27 235.4 175.7)"/>
<ellipse cx="234.0" cy="177.8" rx="1.5" ry="1.2" fill="#70459e" transform="rotate(-27 234.0 177.8)"/>
<ellipse cx="238.2" cy="177.8" rx="1.5" ry="1.2" fill="#70459e" transform="rotate(-27 238.2 177.8)"/>
<ellipse cx="241.7" cy="176.4" rx="1.5" ry="1.2" fill="#70459e" transform="rotate(-27 241.7 176.4)"/>
<ellipse cx="250.8" cy="176.0" rx="1.5" ry="1.2" fill="#70459e" transform="rotate(-27 250.8 176.0)"/>
<ellipse cx="255.0" cy="170.5" rx="1.5" ry="1.2" fill="#70459e" transform="rotate(-27 255.0 170.5)"/>
<ellipse cx="236.1" cy="185.5" rx="1.5" ry="1.2" fill="#70459e" transform="rotate(-27 236.1 185.5)"/>
<ellipse cx="239.6" cy="186.2" rx="1.5" ry="1.2" fill="#70459e" transform="rotate(-27 239.6 186.2)"/>
<ellipse cx="234.7" cy="189.0" rx="1.5" ry="1.2" fill="#70459e" transform="rotate(-27 234.7 189.0)"/>
<ellipse cx="238.2" cy="189.7" rx="1.5" ry="1.2" fill="#70459e" transform="rotate(-27 238.2 189.7)"/>
<ellipse cx="241.7" cy="186.9" rx="1.5" ry="1.2" fill="#70459e" transform="rotate(-27 241.7 186.9)"/>
<ellipse cx="231.2" cy="190.4" rx="1.5" ry="1.2" fill="#70459e" transform="rotate(-27 231.2 190.4)"/>
<ellipse cx="227.7" cy="193.2" rx="1.5" ry="1.2" fill="#70459e" transform="rotate(-27 227.7 193.2)"/>
<ellipse cx="226.3" cy="173.6" rx="1.5" ry="1.2" fill="#70459e" transform="rotate(-27 226.3 173.6)"/>
<ellipse cx="166.8" cy="164.5" rx="1.5" ry="1.2" fill="#70459e" transform="rotate(-27 166.8 164.5)"/>
<ellipse cx="270.4" cy="140.7" rx="1.5" ry="1.2" fill="#70459e" transform="rotate(-27 270.4 140.7)"/>
</g>
<circle cx="215.8" cy="141.4" r="56" fill="none" stroke="#000" stroke-width="2.4"/>
<path d="M106.2 179.8 L161 121.5 M106.2 179.8 L196 194.6" stroke="#2a3538" stroke-width="1.6" stroke-dasharray="4.2 3.1" fill="none"/>
<line x1="282" y1="130.8" x2="324.8" y2="130.8" stroke="#1a1a1a" stroke-width="2.4" stroke-linecap="round"/><path d="M332.8 130.8 L322.6 125.70000000000002 L322.6 135.9Z" fill="#1a1a1a"/>
<path d="M336 156.5 H599.8 V167.0 H336Z" fill="#8fa5c1" stroke="#355b8c" stroke-width="1.4" stroke-linejoin="round"/>
<path d="M336 156.5 H396 V167.0 H336Z" fill="#8b92a2" stroke="#36404c" stroke-width="1.4" stroke-linejoin="round"/>
<path d="M366.6 101.0 H569.4 L599.8 156.5 H336Z" fill="#cdd6e0" stroke="#355b8c" stroke-width="1.5" stroke-linejoin="round"/>
<path d="M439 105.0 L487 105.0 L540 154.0 L509 154.0Z" fill="#e2e7ed" opacity="0.95"/>
<path d="M368.5 101.8 H568.8 L571 105.5 H366.5Z" fill="#dfe5ec"/>
<path d="M366 105.6 H566.8 L594.5 154.0" fill="none" stroke="#6886ad" stroke-width="0.9"/>
<path d="M568.8 102.0 L597.5 155.5 L594.5 154.0 L566.8 105.6Z" fill="#b9c6d6"/>
<path d="M366.6 101.0 H419 L396 156.5 H336Z" fill="#a9b5c3" stroke="#36404c" stroke-width="1.5" stroke-linejoin="round"/>
<path d="M370 105.6 H413 L393 154.0 H342Z" fill="#b0bbc8" stroke="#8e9aa8" stroke-width="0.8"/>
<g clip-path="url(#smclip)"><circle cx="486" cy="132" r="16.8" fill="#e7a0c8"/>
<ellipse cx="489.9" cy="139.7" rx="3.5" ry="0.7" fill="#d987b8" opacity="0.8" transform="rotate(-40 489.9 139.7)"/>
<ellipse cx="500.2" cy="139.7" rx="3.8" ry="0.7" fill="#f6d9ec" opacity="0.8" transform="rotate(-40 500.2 139.7)"/>
<ellipse cx="470.9" cy="130.9" rx="3.9" ry="0.7" fill="#f6d9ec" opacity="0.8" transform="rotate(-40 470.9 130.9)"/>
<ellipse cx="490.8" cy="144.8" rx="1.8" ry="0.7" fill="#d987b8" opacity="0.8" transform="rotate(-40 490.8 144.8)"/>
<ellipse cx="485.0" cy="123.9" rx="2.9" ry="0.7" fill="#f6d9ec" opacity="0.8" transform="rotate(-40 485.0 123.9)"/>
<ellipse cx="488.4" cy="116.4" rx="2.0" ry="0.7" fill="#f6d9ec" opacity="0.8" transform="rotate(-40 488.4 116.4)"/>
<ellipse cx="478.9" cy="145.3" rx="3.4" ry="0.7" fill="#d987b8" opacity="0.8" transform="rotate(-40 478.9 145.3)"/>
<ellipse cx="475.1" cy="141.5" rx="1.8" ry="0.7" fill="#f6d9ec" opacity="0.8" transform="rotate(-40 475.1 141.5)"/>
<ellipse cx="489.8" cy="120.1" rx="1.5" ry="0.7" fill="#f6d9ec" opacity="0.8" transform="rotate(-40 489.8 120.1)"/>
<ellipse cx="497.9" cy="122.7" rx="2.0" ry="0.7" fill="#d987b8" opacity="0.8" transform="rotate(-40 497.9 122.7)"/>
<ellipse cx="501.4" cy="143.9" rx="2.2" ry="0.7" fill="#f6d9ec" opacity="0.8" transform="rotate(-40 501.4 143.9)"/>
<ellipse cx="500.8" cy="133.3" rx="3.2" ry="0.7" fill="#f6d9ec" opacity="0.8" transform="rotate(-40 500.8 133.3)"/>
<ellipse cx="476.6" cy="146.1" rx="3.2" ry="0.7" fill="#d987b8" opacity="0.8" transform="rotate(-40 476.6 146.1)"/>
<ellipse cx="500.9" cy="144.6" rx="2.2" ry="0.7" fill="#f6d9ec" opacity="0.8" transform="rotate(-40 500.9 144.6)"/>
<ellipse cx="481.6" cy="121.3" rx="1.9" ry="0.7" fill="#f6d9ec" opacity="0.8" transform="rotate(-40 481.6 121.3)"/>
<ellipse cx="472.1" cy="125.6" rx="3.0" ry="0.7" fill="#d987b8" opacity="0.8" transform="rotate(-40 472.1 125.6)"/>
<ellipse cx="470.1" cy="137.7" rx="2.3" ry="0.7" fill="#f6d9ec" opacity="0.8" transform="rotate(-40 470.1 137.7)"/>
<ellipse cx="479.9" cy="142.2" rx="2.7" ry="0.7" fill="#f6d9ec" opacity="0.8" transform="rotate(-40 479.9 142.2)"/>
<ellipse cx="480.1" cy="131.4" rx="3.3" ry="0.7" fill="#d987b8" opacity="0.8" transform="rotate(-40 480.1 131.4)"/>
<ellipse cx="471.8" cy="147.2" rx="1.6" ry="0.7" fill="#f6d9ec" opacity="0.8" transform="rotate(-40 471.8 147.2)"/>
<ellipse cx="494.0" cy="143.0" rx="1.5" ry="0.7" fill="#f6d9ec" opacity="0.8" transform="rotate(-40 494.0 143.0)"/>
<ellipse cx="495.2" cy="127.7" rx="2.9" ry="0.7" fill="#d987b8" opacity="0.8" transform="rotate(-40 495.2 127.7)"/>
<ellipse cx="470.3" cy="117.5" rx="2.0" ry="0.7" fill="#f6d9ec" opacity="0.8" transform="rotate(-40 470.3 117.5)"/>
<ellipse cx="500.6" cy="122.3" rx="3.4" ry="0.7" fill="#f6d9ec" opacity="0.8" transform="rotate(-40 500.6 122.3)"/>
<ellipse cx="499.7" cy="146.1" rx="2.4" ry="0.7" fill="#d987b8" opacity="0.8" transform="rotate(-40 499.7 146.1)"/>
<ellipse cx="481.4" cy="132.8" rx="3.4" ry="0.7" fill="#f6d9ec" opacity="0.8" transform="rotate(-40 481.4 132.8)"/>
<ellipse cx="473.5" cy="139.9" rx="3.5" ry="0.7" fill="#f6d9ec" opacity="0.8" transform="rotate(-40 473.5 139.9)"/>
<ellipse cx="497.5" cy="117.2" rx="3.9" ry="0.7" fill="#d987b8" opacity="0.8" transform="rotate(-40 497.5 117.2)"/>
<ellipse cx="472.9" cy="126.9" rx="3.0" ry="0.7" fill="#f6d9ec" opacity="0.8" transform="rotate(-40 472.9 126.9)"/>
<ellipse cx="499.4" cy="126.9" rx="3.8" ry="0.7" fill="#f6d9ec" opacity="0.8" transform="rotate(-40 499.4 126.9)"/>
<ellipse cx="487.4" cy="126.0" rx="2.3" ry="0.7" fill="#d987b8" opacity="0.8" transform="rotate(-40 487.4 126.0)"/>
<ellipse cx="475.7" cy="118.5" rx="1.9" ry="0.7" fill="#f6d9ec" opacity="0.8" transform="rotate(-40 475.7 118.5)"/>
<ellipse cx="492.1" cy="147.9" rx="1.9" ry="0.7" fill="#f6d9ec" opacity="0.8" transform="rotate(-40 492.1 147.9)"/>
<ellipse cx="471.6" cy="147.6" rx="2.8" ry="0.7" fill="#d987b8" opacity="0.8" transform="rotate(-40 471.6 147.6)"/>
<ellipse cx="483.0" cy="123.6" rx="3.0" ry="0.7" fill="#f6d9ec" opacity="0.8" transform="rotate(-40 483.0 123.6)"/>
<ellipse cx="496.4" cy="130.6" rx="2.6" ry="0.7" fill="#f6d9ec" opacity="0.8" transform="rotate(-40 496.4 130.6)"/>
<ellipse cx="471.8" cy="145.3" rx="1.6" ry="0.7" fill="#d987b8" opacity="0.8" transform="rotate(-40 471.8 145.3)"/>
<ellipse cx="485.8" cy="142.8" rx="1.8" ry="0.7" fill="#f6d9ec" opacity="0.8" transform="rotate(-40 485.8 142.8)"/>
<ellipse cx="493.4" cy="146.4" rx="3.1" ry="0.7" fill="#f6d9ec" opacity="0.8" transform="rotate(-40 493.4 146.4)"/>
<ellipse cx="495.2" cy="119.4" rx="2.6" ry="0.7" fill="#d987b8" opacity="0.8" transform="rotate(-40 495.2 119.4)"/>
<ellipse cx="474.8" cy="143.0" rx="2.2" ry="0.7" fill="#f6d9ec" opacity="0.8" transform="rotate(-40 474.8 143.0)"/>
<ellipse cx="484.5" cy="148.0" rx="3.6" ry="0.7" fill="#f6d9ec" opacity="0.8" transform="rotate(-40 484.5 148.0)"/>
<ellipse cx="501.2" cy="130.5" rx="2.7" ry="0.7" fill="#d987b8" opacity="0.8" transform="rotate(-40 501.2 130.5)"/>
<ellipse cx="493.3" cy="131.3" rx="2.2" ry="0.7" fill="#f6d9ec" opacity="0.8" transform="rotate(-40 493.3 131.3)"/>
<ellipse cx="482.9" cy="120.7" rx="2.4" ry="0.7" fill="#f6d9ec" opacity="0.8" transform="rotate(-40 482.9 120.7)"/>
<ellipse cx="501.6" cy="146.7" rx="3.1" ry="0.7" fill="#d987b8" opacity="0.8" transform="rotate(-40 501.6 146.7)"/>
<ellipse cx="486.0" cy="126.8" rx="1.7" ry="0.7" fill="#f6d9ec" opacity="0.8" transform="rotate(-40 486.0 126.8)"/>
<ellipse cx="478.7" cy="141.0" rx="3.7" ry="0.7" fill="#f6d9ec" opacity="0.8" transform="rotate(-40 478.7 141.0)"/>
<ellipse cx="481.6" cy="141.2" rx="3.4" ry="0.7" fill="#d987b8" opacity="0.8" transform="rotate(-40 481.6 141.2)"/>
<ellipse cx="492.2" cy="137.2" rx="3.4" ry="0.7" fill="#f6d9ec" opacity="0.8" transform="rotate(-40 492.2 137.2)"/>
<ellipse cx="481.6" cy="138.5" rx="2.2" ry="0.7" fill="#f6d9ec" opacity="0.8" transform="rotate(-40 481.6 138.5)"/>
<ellipse cx="485.5" cy="140.6" rx="3.2" ry="0.7" fill="#d987b8" opacity="0.8" transform="rotate(-40 485.5 140.6)"/>
<ellipse cx="479.4" cy="146.3" rx="3.1" ry="0.7" fill="#f6d9ec" opacity="0.8" transform="rotate(-40 479.4 146.3)"/>
<ellipse cx="488.6" cy="116.4" rx="2.9" ry="0.7" fill="#f6d9ec" opacity="0.8" transform="rotate(-40 488.6 116.4)"/>
<ellipse cx="478.0" cy="137.5" rx="2.7" ry="0.7" fill="#d987b8" opacity="0.8" transform="rotate(-40 478.0 137.5)"/>
<ellipse cx="496.1" cy="136.7" rx="3.5" ry="0.7" fill="#f6d9ec" opacity="0.8" transform="rotate(-40 496.1 136.7)"/>
<ellipse cx="481.1" cy="136.6" rx="3.3" ry="0.7" fill="#f6d9ec" opacity="0.8" transform="rotate(-40 481.1 136.6)"/>
<ellipse cx="496.5" cy="127.2" rx="3.6" ry="0.7" fill="#d987b8" opacity="0.8" transform="rotate(-40 496.5 127.2)"/>
<ellipse cx="497.8" cy="138.0" rx="3.9" ry="0.7" fill="#f6d9ec" opacity="0.8" transform="rotate(-40 497.8 138.0)"/>
<ellipse cx="500.6" cy="132.6" rx="2.8" ry="0.7" fill="#f6d9ec" opacity="0.8" transform="rotate(-40 500.6 132.6)"/>
</g>
<text x="601.7" y="119" font-size="17.3" fill="#1a1a1a">QFISH</text>
<line x1="609.6" y1="130.8" x2="652.2" y2="130.8" stroke="#1a1a1a" stroke-width="2.4" stroke-linecap="round"/><path d="M660.2 130.8 L650.0 125.70000000000002 L650.0 135.9Z" fill="#1a1a1a"/>
<g clip-path="url(#trclip)">
<rect x="671" y="91.9" width="148" height="85.9" fill="#dd92c0"/>
<path d="M671 91.7 q11.4 -0.7 22.7 0.2 q12.0 -2.3 24.0 -0.8 q13.7 -1.3 27.4 -0.4 q15.0 -0.2 29.9 0.5 q10.8 0.7 21.6 -0.6 q12.1 1.9 24.2 0.0" fill="none" stroke="#cb79ae" stroke-width="0.75" opacity="0.75"/>
<path d="M671 94.8 q12.4 -2.3 24.7 0.4 q11.7 -1.0 23.5 -0.8 q13.9 -0.1 27.8 0.4 q14.0 1.1 28.1 0.7 q10.2 1.6 20.3 -0.1 q14.5 2.0 29.0 -0.6" fill="none" stroke="#eaaad3" stroke-width="0.75" opacity="0.75"/>
<path d="M671 96.8 q8.7 2.4 17.5 -0.1 q12.0 -1.0 24.0 0.0 q10.1 -0.8 20.2 0.1 q11.7 2.1 23.3 0.3 q14.4 1.9 28.9 0.8 q12.4 -1.8 24.7 0.6 q14.7 2.1 29.4 0.1" fill="none" stroke="#cb79ae" stroke-width="0.75" opacity="0.75"/>
<path d="M671 100.0 q8.7 1.7 17.4 0.1 q9.3 -2.3 18.6 0.6 q14.9 -2.1 29.8 0.5 q10.3 -1.8 20.6 -0.3 q13.2 1.9 26.3 -0.7 q11.9 -2.4 23.8 0.3 q9.6 2.0 19.3 0.8" fill="none" stroke="#eaaad3" stroke-width="0.75" opacity="0.75"/>
<path d="M671 102.4 q15.0 -1.0 30.0 -0.7 q11.8 -2.4 23.6 -0.5 q10.3 0.6 20.5 -0.6 q7.3 1.9 14.7 -0.3 q14.7 2.1 29.3 -0.2 q10.7 0.1 21.4 0.2 q11.8 0.3 23.5 0.2" fill="none" stroke="#cb79ae" stroke-width="0.75" opacity="0.75"/>
<path d="M671 105.4 q11.1 -0.4 22.1 0.4 q8.9 -1.0 17.8 0.8 q11.2 0.3 22.3 -0.8 q10.3 0.4 20.6 -0.8 q11.9 0.7 23.9 -0.7 q12.0 -0.2 24.0 0.3 q9.8 1.1 19.6 0.4" fill="none" stroke="#eaaad3" stroke-width="0.75" opacity="0.75"/>
<path d="M671 107.1 q7.5 0.9 15.0 0.7 q9.0 -0.2 18.0 0.1 q9.6 -0.7 19.1 -0.3 q10.0 0.5 19.9 -0.3 q10.0 1.4 20.0 -0.8 q11.6 1.2 23.1 -0.3 q8.8 1.6 17.6 -0.4 q8.5 -0.3 17.0 0.3" fill="none" stroke="#cb79ae" stroke-width="0.75" opacity="0.75"/>
<path d="M671 109.8 q9.6 -0.9 19.2 0.5 q10.5 1.8 21.0 -0.5 q9.7 0.8 19.4 0.6 q10.6 -1.4 21.2 -0.6 q11.2 -1.6 22.5 0.5 q13.7 -1.6 27.4 -0.4 q13.5 0.7 26.9 0.5" fill="none" stroke="#eaaad3" stroke-width="0.75" opacity="0.75"/>
<path d="M671 112.6 q8.0 -1.1 16.1 0.5 q9.2 -0.8 18.3 -0.1 q10.4 -0.5 20.7 0.7 q8.2 -2.6 16.5 0.7 q14.0 2.5 28.1 -0.1 q14.6 2.2 29.2 -0.4 q13.0 1.8 25.9 0.3" fill="none" stroke="#cb79ae" stroke-width="0.75" opacity="0.75"/>
<path d="M671 115.4 q9.3 -0.8 18.6 -0.4 q7.5 0.5 15.1 -0.3 q13.5 -2.4 27.0 0.6 q12.5 2.2 25.1 0.6 q14.2 0.4 28.4 -0.8 q13.0 -1.7 25.9 -0.3 q12.3 0.1 24.6 -0.1" fill="none" stroke="#eaaad3" stroke-width="0.75" opacity="0.75"/>
<path d="M671 118.4 q11.9 -0.8 23.8 -0.4 q13.9 -0.1 27.8 0.5 q9.8 -1.6 19.6 0.1 q13.5 -1.7 27.1 0.5 q14.4 1.6 28.7 0.5 q7.1 0.7 14.1 0.6 q7.4 -1.2 14.8 -0.4" fill="none" stroke="#cb79ae" stroke-width="0.75" opacity="0.75"/>
<path d="M671 120.6 q10.4 -0.1 20.8 0.4 q7.0 -2.3 14.0 -0.6 q8.0 -2.2 16.0 0.8 q13.8 -2.2 27.7 0.0 q9.5 -1.0 19.1 -0.2 q12.2 0.5 24.4 -0.2 q8.5 -0.9 17.1 -0.6 q11.4 1.1 22.9 -0.2" fill="none" stroke="#eaaad3" stroke-width="0.75" opacity="0.75"/>
<path d="M671 122.8 q8.4 -0.7 16.9 0.2 q13.3 -0.6 26.5 0.5 q12.0 -0.4 24.0 -0.2 q11.0 1.1 21.9 -0.1 q12.6 -0.2 25.1 -0.4 q11.3 1.0 22.6 -0.7 q10.4 -0.4 20.8 0.6" fill="none" stroke="#cb79ae" stroke-width="0.75" opacity="0.75"/>
<path d="M671 126.2 q10.0 2.1 20.0 0.5 q9.1 -0.2 18.2 -0.6 q13.5 0.8 27.0 0.6 q13.3 0.9 26.7 0.4 q11.5 -2.1 23.0 0.1 q7.0 -1.9 14.1 0.4 q7.4 -2.1 14.7 -0.6 q14.0 -1.7 28.1 -0.8" fill="none" stroke="#eaaad3" stroke-width="0.75" opacity="0.75"/>
<path d="M671 128.7 q8.0 1.8 15.9 0.3 q13.7 2.4 27.4 0.1 q13.4 -2.4 26.8 0.4 q11.1 1.1 22.2 -0.6 q13.0 2.3 26.0 -0.7 q9.6 0.3 19.2 0.5 q8.9 -1.7 17.9 -0.4" fill="none" stroke="#cb79ae" stroke-width="0.75" opacity="0.75"/>
<path d="M671 131.1 q13.0 -0.6 26.1 -0.2 q10.2 -0.8 20.3 -0.1 q7.7 0.0 15.3 0.8 q10.3 1.3 20.6 -0.5 q12.5 1.3 25.1 0.3 q11.1 -0.1 22.3 0.2 q14.2 -1.8 28.4 -0.6" fill="none" stroke="#eaaad3" stroke-width="0.75" opacity="0.75"/>
<path d="M671 133.8 q14.3 0.1 28.7 -0.1 q12.8 -1.6 25.5 -0.4 q8.6 0.4 17.2 -0.3 q8.9 1.0 17.7 0.7 q9.4 1.1 18.7 -0.1 q13.8 0.4 27.7 -0.4 q8.7 -2.5 17.5 -0.0" fill="none" stroke="#cb79ae" stroke-width="0.75" opacity="0.75"/>
<path d="M671 136.1 q8.4 -0.7 16.8 -0.3 q13.2 -1.9 26.4 0.8 q10.8 0.5 21.7 -0.1 q13.7 1.7 27.4 0.1 q10.9 1.1 21.7 0.6 q10.2 1.2 20.4 0.7 q10.7 -1.4 21.5 -0.4" fill="none" stroke="#eaaad3" stroke-width="0.75" opacity="0.75"/>
<path d="M671 139.0 q12.4 2.4 24.8 0.6 q8.9 -1.6 17.9 -0.4 q8.5 1.1 17.0 0.6 q14.2 -1.3 28.4 0.6 q9.5 -0.4 19.0 0.4 q7.7 -2.1 15.4 0.5 q9.3 -0.7 18.7 0.1 q12.4 -2.6 24.8 -0.3" fill="none" stroke="#cb79ae" stroke-width="0.75" opacity="0.75"/>
<path d="M671 141.3 q10.9 -1.5 21.8 0.1 q14.6 -0.6 29.3 0.1 q8.0 -1.2 15.9 0.3 q7.9 2.0 15.8 0.7 q7.8 2.3 15.6 -0.2 q13.2 1.3 26.4 -0.3 q12.4 0.8 24.8 0.5" fill="none" stroke="#eaaad3" stroke-width="0.75" opacity="0.75"/>
<path d="M671 143.8 q13.0 2.4 26.1 0.3 q11.3 -2.0 22.6 -0.0 q9.8 1.1 19.6 0.3 q11.5 -1.7 23.1 0.2 q12.0 -1.7 24.1 0.6 q12.2 -2.0 24.5 0.7 q8.1 -0.9 16.3 0.4" fill="none" stroke="#cb79ae" stroke-width="0.75" opacity="0.75"/>
<path d="M671 146.7 q11.4 0.8 22.9 -0.1 q9.5 -1.7 19.0 -0.7 q12.7 1.3 25.5 0.1 q12.9 -0.7 25.8 -0.4 q10.1 1.9 20.1 -0.7 q11.0 -1.3 22.1 0.4 q9.8 -0.9 19.7 -0.2" fill="none" stroke="#eaaad3" stroke-width="0.75" opacity="0.75"/>
<path d="M671 149.2 q13.2 -0.8 26.3 0.6 q7.9 -1.2 15.8 -0.6 q7.9 1.5 15.8 0.4 q8.5 -1.6 17.0 -0.1 q12.9 1.6 25.9 0.4 q11.7 -1.8 23.5 -0.2 q8.5 0.1 17.1 0.1 q8.6 -1.3 17.2 0.5" fill="none" stroke="#cb79ae" stroke-width="0.75" opacity="0.75"/>
<path d="M671 151.3 q13.4 2.0 26.9 0.7 q10.1 0.3 20.1 0.1 q12.1 2.5 24.1 0.3 q9.4 1.9 18.8 -0.0 q11.8 1.2 23.6 -0.8 q13.2 0.8 26.3 -0.0 q11.2 -0.2 22.4 -0.5" fill="none" stroke="#eaaad3" stroke-width="0.75" opacity="0.75"/>
<path d="M671 154.4 q7.3 0.0 14.6 0.2 q10.6 0.3 21.1 0.7 q14.1 -1.9 28.3 0.5 q12.0 -2.3 24.0 -0.2 q8.9 -2.2 17.7 0.1 q14.4 -0.9 28.9 0.6 q12.6 -1.9 25.1 0.6" fill="none" stroke="#cb79ae" stroke-width="0.75" opacity="0.75"/>
<path d="M671 157.1 q14.4 1.1 28.8 0.4 q9.7 1.6 19.5 0.7 q13.9 -0.3 27.8 0.4 q10.9 -2.0 21.8 -0.7 q7.6 -1.6 15.2 -0.5 q11.0 1.0 22.0 0.1 q10.4 0.8 20.8 -0.3" fill="none" stroke="#eaaad3" stroke-width="0.75" opacity="0.75"/>
<path d="M671 159.6 q13.1 -0.5 26.1 -0.5 q14.2 1.1 28.4 -0.2 q10.0 0.2 19.9 0.2 q8.8 -2.6 17.6 -0.5 q13.3 -1.9 26.5 -0.1 q8.6 -1.5 17.1 -0.5 q10.2 -1.7 20.5 -0.8" fill="none" stroke="#cb79ae" stroke-width="0.75" opacity="0.75"/>
<path d="M671 161.8 q8.3 -0.1 16.7 -0.7 q7.2 -0.3 14.4 -0.1 q12.6 -2.3 25.3 -0.2 q10.2 -2.5 20.3 0.7 q8.8 -2.1 17.5 -0.0 q8.3 0.6 16.6 -0.2 q8.0 -2.3 16.0 0.4 q9.2 1.5 18.4 -0.1 q14.5 -1.0 28.9 -0.4" fill="none" stroke="#eaaad3" stroke-width="0.75" opacity="0.75"/>
<path d="M671 164.6 q13.5 0.7 27.0 -0.2 q7.7 0.9 15.5 0.8 q11.7 -2.6 23.5 -0.8 q7.7 -1.7 15.4 -0.7 q7.4 0.8 14.9 0.6 q8.6 2.5 17.2 -0.0 q13.4 2.2 26.9 0.7 q7.3 -1.0 14.5 0.2" fill="none" stroke="#cb79ae" stroke-width="0.75" opacity="0.75"/>
<path d="M671 167.8 q7.7 -1.1 15.4 0.6 q7.9 -0.6 15.8 -0.3 q12.4 2.2 24.9 -0.5 q12.9 1.2 25.8 0.5 q11.4 2.2 22.9 -0.2 q10.3 -1.4 20.6 0.4 q10.8 -1.2 21.7 -0.5 q12.8 0.5 25.5 0.3" fill="none" stroke="#eaaad3" stroke-width="0.75" opacity="0.75"/>
<path d="M671 169.9 q10.9 -1.8 21.8 0.3 q7.2 -0.2 14.4 0.4 q12.4 -2.1 24.8 -0.4 q13.7 0.7 27.5 0.6 q14.0 -0.3 28.0 0.6 q12.9 -0.9 25.7 -0.2 q7.6 -0.5 15.2 0.7" fill="none" stroke="#cb79ae" stroke-width="0.75" opacity="0.75"/>
<path d="M671 172.2 q11.6 -2.0 23.1 -0.7 q12.2 -1.3 24.4 -0.7 q8.2 0.8 16.4 0.1 q7.1 -1.4 14.2 0.7 q8.8 0.3 17.5 -0.1 q13.2 0.5 26.5 0.5 q11.3 -1.6 22.6 -0.5 q7.6 1.7 15.3 -0.6" fill="none" stroke="#eaaad3" stroke-width="0.75" opacity="0.75"/>
<path d="M671 174.7 q14.7 -1.6 29.5 0.6 q7.7 -0.2 15.4 -0.4 q13.6 0.6 27.3 0.2 q13.1 1.9 26.2 -0.2 q11.8 -0.3 23.6 -0.6 q13.7 0.5 27.4 0.5" fill="none" stroke="#cb79ae" stroke-width="0.75" opacity="0.75"/>
<path d="M671 177.5 q11.3 -0.2 22.6 0.4 q7.6 -0.8 15.2 -0.0 q7.6 0.3 15.1 0.4 q10.4 0.8 20.8 0.2 q8.7 -0.8 17.4 0.8 q9.7 -0.4 19.4 -0.7 q8.7 -1.7 17.5 0.7 q12.8 1.9 25.6 0.8" fill="none" stroke="#eaaad3" stroke-width="0.75" opacity="0.75"/>
<path d="M671.1 105.5 Q681.3 96.2 691.5 110.6 Q681.3 120.0 671.1 105.5Z" fill="#fbeaf6"/>
<path d="M678.4 97.0 Q683.0 95.3 687.5 98.4 Q683.0 100.1 678.4 97.0Z" fill="#fbeaf6"/>
<path d="M694.9 99.0 Q706.8 96.0 718.7 104.5 Q706.8 107.5 694.9 99.0Z" fill="#fbeaf6"/>
<path d="M720.4 99.0 Q728.0 97.9 735.7 104.1 Q728.0 105.3 720.4 99.0Z" fill="#fbeaf6"/>
<path d="M728.9 113.2 Q733.5 111.1 738.2 115.2 Q733.5 117.2 728.9 113.2Z" fill="#fbeaf6"/>
<path d="M741.6 115.7 Q745.4 114.0 749.3 117.7 Q745.4 119.4 741.6 115.7Z" fill="#fbeaf6"/>
<path d="M703.4 126.8 Q717.0 121.7 730.6 128.1 Q717.0 133.2 703.4 126.8Z" fill="#fbeaf6"/>
<path d="M671.1 131.9 Q683.8 127.6 696.6 134.9 Q683.8 139.2 671.1 131.9Z" fill="#fbeaf6"/>
<path d="M752.7 105.5 Q755.6 103.8 758.6 106.2 Q755.6 107.9 752.7 105.5Z" fill="#fbeaf6"/>
<path d="M762.0 92.2 Q774.1 90.0 786.1 96.7 Q774.1 98.9 762.0 92.2Z" fill="#fbeaf6"/>
<path d="M793.5 95.0 Q799.7 93.1 805.9 96.0 Q799.7 97.9 793.5 95.0Z" fill="#fbeaf6"/>
<path d="M774.8 102.4 Q778.6 100.7 782.4 103.0 Q778.6 104.7 774.8 102.4Z" fill="#fbeaf6"/>
<path d="M786.7 100.4 Q790.5 99.0 794.3 100.9 Q790.5 102.4 786.7 100.4Z" fill="#fbeaf6"/>
<path d="M783.8 107.2 Q787.3 105.7 790.9 108.2 Q787.3 109.8 783.8 107.2Z" fill="#fbeaf6"/>
<path d="M766.3 111.5 Q772.2 108.6 778.2 112.5 Q772.2 115.4 766.3 111.5Z" fill="#fbeaf6"/>
<path d="M800.3 110.6 Q810.0 104.7 819.8 112.3 Q810.0 118.3 800.3 110.6Z" fill="#fbeaf6"/>
<path d="M755.2 123.9 Q773.2 115.2 791.2 120.8 Q773.2 129.5 755.2 123.9Z" fill="#fbeaf6"/>
<path d="M790.9 127.9 Q798.7 125.2 806.5 127.3 Q798.7 130.0 790.9 127.9Z" fill="#fbeaf6"/>
<ellipse cx="672.8" cy="104.7" rx="2.6" ry="2.0" fill="#66429c"/>
<ellipse cx="701.1" cy="100.1" rx="1.9" ry="1.5" fill="#66429c"/>
<ellipse cx="706.8" cy="101.3" rx="1.9" ry="1.5" fill="#66429c"/>
<ellipse cx="723.8" cy="99.9" rx="1.5" ry="1.2" fill="#66429c"/>
<ellipse cx="730.6" cy="103.5" rx="1.7" ry="1.4" fill="#66429c"/>
<ellipse cx="733.6" cy="114.0" rx="1.7" ry="1.4" fill="#66429c"/>
<ellipse cx="745.5" cy="116.7" rx="1.7" ry="1.4" fill="#66429c"/>
<ellipse cx="721.5" cy="127.6" rx="2.6" ry="2.0" fill="#66429c"/>
<ellipse cx="765.1" cy="92.8" rx="1.5" ry="1.2" fill="#66429c"/>
<ellipse cx="780.4" cy="95.8" rx="1.9" ry="1.5" fill="#66429c"/>
<ellipse cx="797.7" cy="95.6" rx="1.7" ry="1.4" fill="#66429c"/>
<ellipse cx="786.7" cy="107.5" rx="1.5" ry="1.2" fill="#66429c"/>
<ellipse cx="771.9" cy="112.0" rx="1.9" ry="1.5" fill="#66429c"/>
<ellipse cx="815.6" cy="111.5" rx="2.1" ry="1.7" fill="#66429c"/>
<ellipse cx="808.8" cy="114.5" rx="1.5" ry="1.2" fill="#66429c"/>
<ellipse cx="773.1" cy="120.0" rx="1.9" ry="1.5" fill="#66429c"/>
<ellipse cx="777.3" cy="122.5" rx="1.9" ry="1.5" fill="#66429c"/>
<ellipse cx="782.7" cy="120.5" rx="2.1" ry="1.7" fill="#66429c"/>
<ellipse cx="759.5" cy="97.0" rx="2.2" ry="0.9" fill="#e0658f" opacity="0.8"/>
<ellipse cx="725.5" cy="118.8" rx="2.2" ry="0.9" fill="#e0658f" opacity="0.8"/>
<ellipse cx="705.1" cy="111.5" rx="2.2" ry="0.9" fill="#e0658f" opacity="0.8"/>
<ellipse cx="693.2" cy="125.6" rx="2.2" ry="0.9" fill="#e0658f" opacity="0.8"/>
<ellipse cx="746.7" cy="130.7" rx="2.2" ry="0.9" fill="#e0658f" opacity="0.8"/>
<ellipse cx="775.6" cy="129.6" rx="2.2" ry="0.9" fill="#e0658f" opacity="0.8"/>
<ellipse cx="802.0" cy="121.3" rx="2.2" ry="0.9" fill="#e0658f" opacity="0.8"/>
<path d="M671.1 148.9 Q681.3 139.5 691.5 154.0 Q681.3 163.3 671.1 148.9Z" fill="#fbeaf6"/>
<path d="M678.4 140.4 Q683.0 138.7 687.5 141.7 Q683.0 143.4 678.4 140.4Z" fill="#fbeaf6"/>
<path d="M694.9 142.4 Q706.8 139.3 718.7 147.8 Q706.8 150.9 694.9 142.4Z" fill="#fbeaf6"/>
<path d="M720.4 142.4 Q728.0 141.2 735.7 147.5 Q728.0 148.7 720.4 142.4Z" fill="#fbeaf6"/>
<path d="M728.9 156.5 Q733.5 154.5 738.2 158.5 Q733.5 160.6 728.9 156.5Z" fill="#fbeaf6"/>
<path d="M741.6 159.1 Q745.4 157.4 749.3 161.1 Q745.4 162.8 741.6 159.1Z" fill="#fbeaf6"/>
<path d="M703.4 170.1 Q717.0 165.0 730.6 171.5 Q717.0 176.6 703.4 170.1Z" fill="#fbeaf6"/>
<path d="M671.1 175.2 Q683.8 171.0 696.6 178.3 Q683.8 182.5 671.1 175.2Z" fill="#fbeaf6"/>
<path d="M752.7 148.9 Q755.6 147.2 758.6 149.5 Q755.6 151.2 752.7 148.9Z" fill="#fbeaf6"/>
<path d="M762.0 135.6 Q774.1 133.4 786.1 140.0 Q774.1 142.2 762.0 135.6Z" fill="#fbeaf6"/>
<path d="M793.5 138.3 Q799.7 136.4 805.9 139.3 Q799.7 141.2 793.5 138.3Z" fill="#fbeaf6"/>
<path d="M774.8 145.8 Q778.6 144.0 782.4 146.3 Q778.6 148.1 774.8 145.8Z" fill="#fbeaf6"/>
<path d="M786.7 143.8 Q790.5 142.3 794.3 144.3 Q790.5 145.7 786.7 143.8Z" fill="#fbeaf6"/>
<path d="M783.8 150.6 Q787.3 149.0 790.9 151.6 Q787.3 153.1 783.8 150.6Z" fill="#fbeaf6"/>
<path d="M766.3 154.8 Q772.2 151.9 778.2 155.8 Q772.2 158.7 766.3 154.8Z" fill="#fbeaf6"/>
<path d="M800.3 154.0 Q810.0 148.0 819.8 155.7 Q810.0 161.6 800.3 154.0Z" fill="#fbeaf6"/>
<path d="M755.2 167.2 Q773.2 158.5 791.2 164.2 Q773.2 172.8 755.2 167.2Z" fill="#fbeaf6"/>
<path d="M790.9 171.3 Q798.7 168.6 806.5 170.6 Q798.7 173.3 790.9 171.3Z" fill="#fbeaf6"/>
<ellipse cx="672.8" cy="148.0" rx="2.6" ry="2.0" fill="#66429c"/>
<ellipse cx="701.1" cy="143.4" rx="1.9" ry="1.5" fill="#66429c"/>
<ellipse cx="706.8" cy="144.6" rx="1.9" ry="1.5" fill="#66429c"/>
<ellipse cx="723.8" cy="143.2" rx="1.5" ry="1.2" fill="#66429c"/>
<ellipse cx="730.6" cy="146.8" rx="1.7" ry="1.4" fill="#66429c"/>
<ellipse cx="733.6" cy="157.4" rx="1.7" ry="1.4" fill="#66429c"/>
<ellipse cx="745.5" cy="160.1" rx="1.7" ry="1.4" fill="#66429c"/>
<ellipse cx="721.5" cy="171.0" rx="2.6" ry="2.0" fill="#66429c"/>
<ellipse cx="765.1" cy="136.1" rx="1.5" ry="1.2" fill="#66429c"/>
<ellipse cx="780.4" cy="139.2" rx="1.9" ry="1.5" fill="#66429c"/>
<ellipse cx="797.7" cy="139.0" rx="1.7" ry="1.4" fill="#66429c"/>
<ellipse cx="786.7" cy="150.9" rx="1.5" ry="1.2" fill="#66429c"/>
<ellipse cx="771.9" cy="155.3" rx="1.9" ry="1.5" fill="#66429c"/>
<ellipse cx="815.6" cy="154.8" rx="2.1" ry="1.7" fill="#66429c"/>
<ellipse cx="808.8" cy="157.9" rx="1.5" ry="1.2" fill="#66429c"/>
<ellipse cx="773.1" cy="163.3" rx="1.9" ry="1.5" fill="#66429c"/>
<ellipse cx="777.3" cy="165.9" rx="1.9" ry="1.5" fill="#66429c"/>
<ellipse cx="782.7" cy="163.8" rx="2.1" ry="1.7" fill="#66429c"/>
<ellipse cx="759.5" cy="140.4" rx="2.2" ry="0.9" fill="#e0658f" opacity="0.8"/>
<ellipse cx="725.5" cy="162.1" rx="2.2" ry="0.9" fill="#e0658f" opacity="0.8"/>
<ellipse cx="705.1" cy="154.8" rx="2.2" ry="0.9" fill="#e0658f" opacity="0.8"/>
<ellipse cx="693.2" cy="168.9" rx="2.2" ry="0.9" fill="#e0658f" opacity="0.8"/>
<ellipse cx="746.7" cy="174.0" rx="2.2" ry="0.9" fill="#e0658f" opacity="0.8"/>
<ellipse cx="775.6" cy="173.0" rx="2.2" ry="0.9" fill="#e0658f" opacity="0.8"/>
<ellipse cx="802.0" cy="164.7" rx="2.2" ry="0.9" fill="#e0658f" opacity="0.8"/>
</g>
<g clip-path="url(#c2clip)">
<rect x="855" y="76" width="117" height="117" fill="#fff"/>
<rect x="855" y="90.5" width="117" height="89.5" fill="#f6d6e4"/>
<rect x="908.1" y="139.9" width="6.7" height="0.9" fill="#fbeef4" opacity="0.75"/>
<rect x="909.6" y="135.6" width="5.3" height="0.9" fill="#e7bfe2" opacity="0.75"/>
<rect x="877.9" y="136.0" width="5.5" height="0.9" fill="#e7bfe2" opacity="0.75"/>
<rect x="946.6" y="101.7" width="4.2" height="0.9" fill="#fbeef4" opacity="0.75"/>
<rect x="867.2" y="160.4" width="5.8" height="0.9" fill="#e7bfe2" opacity="0.75"/>
<rect x="861.7" y="174.5" width="6.9" height="0.9" fill="#e7bfe2" opacity="0.75"/>
<rect x="930.9" y="144.5" width="3.6" height="0.9" fill="#fbeef4" opacity="0.75"/>
<rect x="858.7" y="137.3" width="3.2" height="0.9" fill="#e7bfe2" opacity="0.75"/>
<rect x="878.5" y="113.8" width="3.1" height="0.9" fill="#e7bfe2" opacity="0.75"/>
<rect x="909.4" y="130.1" width="6.4" height="0.9" fill="#fbeef4" opacity="0.75"/>
<rect x="915.7" y="146.5" width="5.0" height="0.9" fill="#e7bfe2" opacity="0.75"/>
<rect x="931.9" y="131.5" width="4.1" height="0.9" fill="#e7bfe2" opacity="0.75"/>
<rect x="969.7" y="175.6" width="6.4" height="0.9" fill="#fbeef4" opacity="0.75"/>
<rect x="937.0" y="119.9" width="3.9" height="0.9" fill="#e7bfe2" opacity="0.75"/>
<rect x="889.7" y="99.8" width="6.1" height="0.9" fill="#e7bfe2" opacity="0.75"/>
<rect x="902.2" y="163.4" width="4.5" height="0.9" fill="#fbeef4" opacity="0.75"/>
<rect x="965.3" y="163.5" width="3.0" height="0.9" fill="#e7bfe2" opacity="0.75"/>
<rect x="880.7" y="168.6" width="4.9" height="0.9" fill="#e7bfe2" opacity="0.75"/>
<rect x="967.8" y="126.6" width="3.3" height="0.9" fill="#fbeef4" opacity="0.75"/>
<rect x="928.1" y="157.8" width="4.1" height="0.9" fill="#e7bfe2" opacity="0.75"/>
<rect x="866.8" y="121.3" width="6.9" height="0.9" fill="#e7bfe2" opacity="0.75"/>
<rect x="942.7" y="103.7" width="4.0" height="0.9" fill="#fbeef4" opacity="0.75"/>
<rect x="868.4" y="98.9" width="6.2" height="0.9" fill="#e7bfe2" opacity="0.75"/>
<rect x="877.1" y="139.9" width="4.8" height="0.9" fill="#e7bfe2" opacity="0.75"/>
<rect x="878.5" y="154.0" width="3.5" height="0.9" fill="#fbeef4" opacity="0.75"/>
<rect x="929.7" y="103.6" width="4.7" height="0.9" fill="#e7bfe2" opacity="0.75"/>
<rect x="881.1" y="116.1" width="6.9" height="0.9" fill="#e7bfe2" opacity="0.75"/>
<rect x="947.8" y="118.9" width="6.5" height="0.9" fill="#fbeef4" opacity="0.75"/>
<rect x="880.8" y="126.3" width="6.4" height="0.9" fill="#e7bfe2" opacity="0.75"/>
<rect x="929.5" y="102.2" width="7.0" height="0.9" fill="#e7bfe2" opacity="0.75"/>
<rect x="881.1" y="115.2" width="6.1" height="0.9" fill="#fbeef4" opacity="0.75"/>
<rect x="894.2" y="118.3" width="3.3" height="0.9" fill="#e7bfe2" opacity="0.75"/>
<rect x="867.2" y="141.8" width="4.0" height="0.9" fill="#e7bfe2" opacity="0.75"/>
<rect x="924.9" y="124.5" width="4.8" height="0.9" fill="#fbeef4" opacity="0.75"/>
<rect x="965.4" y="133.7" width="5.3" height="0.9" fill="#e7bfe2" opacity="0.75"/>
<rect x="954.9" y="109.0" width="3.6" height="0.9" fill="#e7bfe2" opacity="0.75"/>
<rect x="959.7" y="161.1" width="4.0" height="0.9" fill="#fbeef4" opacity="0.75"/>
<rect x="878.4" y="154.6" width="6.8" height="0.9" fill="#e7bfe2" opacity="0.75"/>
<rect x="879.2" y="171.9" width="6.5" height="0.9" fill="#e7bfe2" opacity="0.75"/>
<rect x="925.2" y="128.6" width="3.4" height="0.9" fill="#fbeef4" opacity="0.75"/>
<rect x="861.4" y="172.9" width="4.0" height="0.9" fill="#e7bfe2" opacity="0.75"/>
<rect x="936.6" y="115.1" width="6.3" height="0.9" fill="#e7bfe2" opacity="0.75"/>
<rect x="924.4" y="118.1" width="3.7" height="0.9" fill="#fbeef4" opacity="0.75"/>
<rect x="938.4" y="99.6" width="3.9" height="0.9" fill="#e7bfe2" opacity="0.75"/>
<rect x="920.2" y="163.9" width="5.5" height="0.9" fill="#e7bfe2" opacity="0.75"/>
<rect x="888.7" y="169.2" width="3.8" height="0.9" fill="#fbeef4" opacity="0.75"/>
<rect x="858.9" y="116.1" width="4.8" height="0.9" fill="#e7bfe2" opacity="0.75"/>
<rect x="863.8" y="108.5" width="4.5" height="0.9" fill="#e7bfe2" opacity="0.75"/>
<rect x="921.7" y="104.8" width="4.4" height="0.9" fill="#fbeef4" opacity="0.75"/>
<rect x="957.7" y="174.4" width="5.6" height="0.9" fill="#e7bfe2" opacity="0.75"/>
<rect x="935.1" y="141.9" width="3.6" height="0.9" fill="#e7bfe2" opacity="0.75"/>
<rect x="861.0" y="95.5" width="6.6" height="0.9" fill="#fbeef4" opacity="0.75"/>
<rect x="936.2" y="172.9" width="3.1" height="0.9" fill="#e7bfe2" opacity="0.75"/>
<rect x="928.9" y="133.5" width="5.9" height="0.9" fill="#e7bfe2" opacity="0.75"/>
<rect x="893.0" y="175.9" width="3.3" height="0.9" fill="#fbeef4" opacity="0.75"/>
<rect x="918.7" y="154.4" width="6.6" height="0.9" fill="#e7bfe2" opacity="0.75"/>
<rect x="940.3" y="151.7" width="6.2" height="0.9" fill="#e7bfe2" opacity="0.75"/>
<rect x="960.4" y="122.9" width="5.7" height="0.9" fill="#fbeef4" opacity="0.75"/>
<rect x="958.8" y="165.4" width="4.7" height="0.9" fill="#e7bfe2" opacity="0.75"/>
<rect x="946.3" y="164.8" width="5.3" height="0.9" fill="#e7bfe2" opacity="0.75"/>
<rect x="927.6" y="125.4" width="5.3" height="0.9" fill="#fbeef4" opacity="0.75"/>
<rect x="925.8" y="100.6" width="5.6" height="0.9" fill="#e7bfe2" opacity="0.75"/>
<rect x="969.2" y="166.1" width="5.9" height="0.9" fill="#e7bfe2" opacity="0.75"/>
<rect x="900.9" y="154.3" width="5.3" height="0.9" fill="#fbeef4" opacity="0.75"/>
<rect x="906.8" y="162.7" width="3.3" height="0.9" fill="#e7bfe2" opacity="0.75"/>
<rect x="941.8" y="96.4" width="5.4" height="0.9" fill="#e7bfe2" opacity="0.75"/>
<rect x="911.3" y="112.9" width="5.8" height="0.9" fill="#fbeef4" opacity="0.75"/>
<rect x="913.2" y="144.4" width="6.7" height="0.9" fill="#e7bfe2" opacity="0.75"/>
<rect x="885.9" y="94.9" width="4.2" height="0.9" fill="#e7bfe2" opacity="0.75"/>
<rect x="933.6" y="110.6" width="3.7" height="0.9" fill="#fbeef4" opacity="0.75"/>
<rect x="959.3" y="148.1" width="4.8" height="0.9" fill="#e7bfe2" opacity="0.75"/>
<rect x="957.8" y="120.8" width="5.7" height="0.9" fill="#e7bfe2" opacity="0.75"/>
<rect x="879.4" y="129.3" width="6.2" height="0.9" fill="#fbeef4" opacity="0.75"/>
<rect x="960.3" y="166.2" width="4.5" height="0.9" fill="#e7bfe2" opacity="0.75"/>
<rect x="922.9" y="120.0" width="3.5" height="0.9" fill="#e7bfe2" opacity="0.75"/>
<rect x="913.1" y="162.6" width="6.4" height="0.9" fill="#fbeef4" opacity="0.75"/>
<rect x="937.4" y="171.9" width="4.1" height="0.9" fill="#e7bfe2" opacity="0.75"/>
<rect x="876.1" y="131.0" width="4.1" height="0.9" fill="#e7bfe2" opacity="0.75"/>
<rect x="881.2" y="127.9" width="5.5" height="0.9" fill="#fbeef4" opacity="0.75"/>
<rect x="912.8" y="119.9" width="6.4" height="0.9" fill="#e7bfe2" opacity="0.75"/>
<rect x="968.0" y="131.1" width="3.3" height="0.9" fill="#e7bfe2" opacity="0.75"/>
<rect x="860.6" y="165.6" width="3.2" height="0.9" fill="#fbeef4" opacity="0.75"/>
<rect x="937.1" y="140.8" width="4.2" height="0.9" fill="#e7bfe2" opacity="0.75"/>
<rect x="946.4" y="95.6" width="3.5" height="0.9" fill="#e7bfe2" opacity="0.75"/>
<rect x="908.4" y="96.0" width="6.3" height="0.9" fill="#fbeef4" opacity="0.75"/>
<rect x="883.8" y="105.6" width="3.2" height="0.9" fill="#e7bfe2" opacity="0.75"/>
<rect x="928.1" y="130.6" width="5.5" height="0.9" fill="#e7bfe2" opacity="0.75"/>
<rect x="931.0" y="160.2" width="6.8" height="0.9" fill="#fbeef4" opacity="0.75"/>
<rect x="934.3" y="110.3" width="4.9" height="0.9" fill="#e7bfe2" opacity="0.75"/>
<rect x="877.2" y="94.9" width="4.9" height="0.9" fill="#e7bfe2" opacity="0.75"/>
<rect x="937.7" y="108.7" width="4.1" height="0.9" fill="#fbeef4" opacity="0.75"/>
<rect x="896.1" y="151.2" width="5.1" height="0.9" fill="#e7bfe2" opacity="0.75"/>
<rect x="926.4" y="156.0" width="4.6" height="0.9" fill="#e7bfe2" opacity="0.75"/>
<rect x="946.5" y="168.3" width="3.3" height="0.9" fill="#fbeef4" opacity="0.75"/>
<rect x="962.4" y="153.2" width="3.5" height="0.9" fill="#e7bfe2" opacity="0.75"/>
<rect x="908.2" y="145.3" width="6.6" height="0.9" fill="#e7bfe2" opacity="0.75"/>
<rect x="899.6" y="140.6" width="6.5" height="0.9" fill="#fbeef4" opacity="0.75"/>
<rect x="947.0" y="171.4" width="4.9" height="0.9" fill="#e7bfe2" opacity="0.75"/>
<rect x="930.6" y="110.8" width="5.9" height="0.9" fill="#e7bfe2" opacity="0.75"/>
<rect x="949.5" y="146.6" width="5.9" height="0.9" fill="#fbeef4" opacity="0.75"/>
<rect x="881.1" y="167.8" width="6.9" height="0.9" fill="#e7bfe2" opacity="0.75"/>
<rect x="967.4" y="138.0" width="6.2" height="0.9" fill="#e7bfe2" opacity="0.75"/>
<rect x="893.2" y="168.6" width="6.4" height="0.9" fill="#fbeef4" opacity="0.75"/>
<rect x="896.4" y="100.8" width="4.8" height="0.9" fill="#e7bfe2" opacity="0.75"/>
<rect x="919.2" y="157.0" width="4.9" height="0.9" fill="#e7bfe2" opacity="0.75"/>
<rect x="860.2" y="160.3" width="3.3" height="0.9" fill="#fbeef4" opacity="0.75"/>
<rect x="947.4" y="108.2" width="4.3" height="0.9" fill="#e7bfe2" opacity="0.75"/>
<rect x="946.0" y="105.5" width="3.6" height="0.9" fill="#e7bfe2" opacity="0.75"/>
<rect x="915.4" y="153.3" width="6.4" height="0.9" fill="#fbeef4" opacity="0.75"/>
<rect x="934.9" y="171.6" width="5.0" height="0.9" fill="#e7bfe2" opacity="0.75"/>
<rect x="855" y="90.3" width="117" height="2.8" fill="#bf6c8c"/>
<rect x="855" y="176.6" width="117" height="3" fill="#bf6c8c"/>
<ellipse cx="913" cy="136" rx="35.2" ry="18.2" fill="#5c4bf4"/>
<circle cx="904.0" cy="120.6" r="1.15" fill="#f21f45"/>
<circle cx="914.0" cy="120.0" r="1.15" fill="#f21f45"/>
<circle cx="892.4" cy="127.0" r="1.15" fill="#f21f45"/>
<circle cx="908.0" cy="129.0" r="1.15" fill="#f21f45"/>
<circle cx="918.0" cy="127.0" r="1.15" fill="#f21f45"/>
<circle cx="929.6" cy="127.4" r="1.15" fill="#f21f45"/>
<circle cx="900.4" cy="132.4" r="1.15" fill="#f21f45"/>
<circle cx="907.0" cy="135.6" r="1.15" fill="#f21f45"/>
<circle cx="914.6" cy="135.0" r="1.15" fill="#f21f45"/>
<circle cx="924.0" cy="133.6" r="1.15" fill="#f21f45"/>
<circle cx="893.4" cy="137.0" r="1.15" fill="#f21f45"/>
<circle cx="899.6" cy="142.0" r="1.15" fill="#f21f45"/>
<circle cx="905.6" cy="143.0" r="1.15" fill="#f21f45"/>
<circle cx="916.0" cy="141.0" r="1.15" fill="#f21f45"/>
<circle cx="922.8" cy="141.2" r="1.15" fill="#f21f45"/>
<circle cx="934.4" cy="139.4" r="1.15" fill="#f21f45"/>
<circle cx="929.4" cy="144.4" r="1.15" fill="#f21f45"/>
<circle cx="901.0" cy="148.6" r="1.15" fill="#f21f45"/>
<circle cx="908.0" cy="150.0" r="1.15" fill="#f21f45"/>
<circle cx="921.4" cy="150.0" r="1.15" fill="#f21f45"/>
<circle cx="918.4" cy="153.0" r="1.15" fill="#f21f45"/>
<circle cx="928.0" cy="152.0" r="1.15" fill="#f21f45"/>
</g>
<circle cx="913.2" cy="134" r="56" fill="none" stroke="#000" stroke-width="2.3"/>
<path d="M882 86 L805 122 L869 171" stroke="#2a3538" stroke-width="1.6" stroke-dasharray="4.2 3.1" fill="none"/>
</g>
<g id="fluo">
<g clip-path="url(#fcr)">
<rect x="11.7" y="246.5" width="243.1" height="120.9" fill="#8a140c"/>
<rect x="11.7" y="246.5" width="243.1" height="120.9" filter="url(#nr)"/>
<ellipse cx="95" cy="262" rx="95" ry="11" fill="#ff3522" opacity="0.55" filter="url(#bl4)"/>
<ellipse cx="60" cy="252" rx="50" ry="5" fill="#ff3018" opacity="0.5" filter="url(#bl2_5)"/>
<ellipse cx="60" cy="300" rx="50" ry="10" fill="#e02a18" opacity="0.25" filter="url(#bl4)"/>
<ellipse cx="228" cy="272" rx="36" ry="20" fill="#1a0000" opacity="0.38" filter="url(#bl6)"/>
<ellipse cx="214" cy="308" rx="24" ry="11" fill="#ff4028" opacity="0.5" filter="url(#bl4)"/>
<rect x="11.7" y="336" width="243.1" height="32" fill="#1a0000" opacity="0.3" filter="url(#bl4)"/>
<rect x="6.699999999999999" y="347" width="253.1" height="8" fill="#160000" opacity="0.72" filter="url(#bl2_5)"/>
<ellipse cx="34" cy="315" rx="14.0" ry="8.0" fill="#1a0000" opacity="0.45" filter="url(#bl4)"/>
<ellipse cx="229" cy="326" rx="18.2" ry="10.4" fill="#1a0000" opacity="0.45" filter="url(#bl4)"/>
<ellipse cx="190" cy="253" rx="15.399999999999999" ry="8.8" fill="#1a0000" opacity="0.45" filter="url(#bl4)"/>
<ellipse cx="150" cy="285" rx="25.2" ry="14.4" fill="#1a0000" opacity="0.45" filter="url(#bl4)"/>
<ellipse cx="75" cy="322" rx="12.6" ry="7.2" fill="#1a0000" opacity="0.45" filter="url(#bl4)"/>
<ellipse cx="27" cy="251.7" rx="3" ry="3" fill="#ff2416" opacity="0.95" filter="url(#bl1_2)"/>
<ellipse cx="34" cy="250" rx="3" ry="3" fill="#ff2416" opacity="0.95" filter="url(#bl1_2)"/>
<ellipse cx="52" cy="251" rx="2.6" ry="2.6" fill="#ff2416" opacity="0.95" filter="url(#bl1_2)"/>
<ellipse cx="58.5" cy="251" rx="2.6" ry="2.6" fill="#ff2416" opacity="0.95" filter="url(#bl1_2)"/>
<ellipse cx="70" cy="249" rx="3" ry="3" fill="#ff2416" opacity="0.95" filter="url(#bl1_2)"/>
<ellipse cx="88.4" cy="251.5" rx="6" ry="6" fill="#ff2416" opacity="0.95" filter="url(#bl1_2)"/>
<ellipse cx="100" cy="249" rx="3" ry="3" fill="#ff2416" opacity="0.95" filter="url(#bl1_2)"/>
<ellipse cx="116" cy="250" rx="2.5" ry="2.5" fill="#ff2416" opacity="0.95" filter="url(#bl1_2)"/>
<ellipse cx="44" cy="307" rx="3.8" ry="3.8" fill="#ff2416" opacity="0.95" filter="url(#bl1_2)"/>
<ellipse cx="67" cy="307" rx="4.8" ry="4.8" fill="#ff2416" opacity="0.95" filter="url(#bl1_2)"/>
<ellipse cx="74" cy="302" rx="2" ry="2" fill="#ff2416" opacity="0.95" filter="url(#bl1_2)"/>
<ellipse cx="244.4" cy="360.4" rx="2" ry="2" fill="#ff2416" opacity="0.95" filter="url(#bl1_2)"/>
<ellipse cx="240" cy="253" rx="2" ry="2" fill="#ff2416" opacity="0.95" filter="url(#bl1_2)"/>
<rect x="11.7" y="246.5" width="243.1" height="120.9" filter="url(#streak)" opacity="0.3"/>
<rect x="11.7" y="246.5" width="243.1" height="120.9" filter="url(#streakw)" opacity="0.10"/>
<rect x="11.7" y="246.5" width="243.1" height="120.9" filter="url(#grain)" opacity="0.3"/>
</g>
<ellipse cx="128.7" cy="307.1" rx="39.4" ry="20.1" fill="none" stroke="#fff" stroke-width="3.3" stroke-dasharray="6.6 4.05"/>
<rect x="225" y="354.7" width="25" height="3.2" fill="#fff"/>
<g clip-path="url(#fcg)">
<rect x="261.7" y="246.5" width="243.1" height="120.9" fill="#3ca81e"/>
<rect x="261.7" y="246.5" width="243.1" height="120.9" filter="url(#ng)"/>
<ellipse cx="365" cy="266" rx="85" ry="14" fill="#78ff3c" opacity="0.45" filter="url(#bl6)"/>
<ellipse cx="450" cy="300" rx="50" ry="12" fill="#60f030" opacity="0.3" filter="url(#bl6)"/>
<ellipse cx="268" cy="300" rx="14" ry="50" fill="#0c3d08" opacity="0.3" filter="url(#bl6)"/>
<rect x="261.7" y="338" width="243.1" height="30" fill="#0a3005" opacity="0.22" filter="url(#bl4)"/>
<ellipse cx="330" cy="351" rx="75" ry="4.5" fill="#0a3406" opacity="0.7" filter="url(#bl2_5)"/>
<ellipse cx="450" cy="351" rx="60" ry="3" fill="#0a3406" opacity="0.35" filter="url(#bl2_5)"/>
<ellipse cx="382.6" cy="307" rx="33" ry="12" fill="#0c3d08" opacity="0.72" filter="url(#bl4)"/>
<ellipse cx="474" cy="326" rx="14.3" ry="11" fill="#0c3d08" opacity="0.5" filter="url(#bl4)"/>
<ellipse cx="285" cy="315" rx="7.800000000000001" ry="6" fill="#0c3d08" opacity="0.5" filter="url(#bl4)"/>
<ellipse cx="488" cy="310" rx="7.800000000000001" ry="6" fill="#0c3d08" opacity="0.5" filter="url(#bl4)"/>
<ellipse cx="443" cy="255" rx="9.1" ry="7" fill="#0c3d08" opacity="0.5" filter="url(#bl4)"/>
<ellipse cx="272" cy="330" rx="10.4" ry="8" fill="#0c3d08" opacity="0.5" filter="url(#bl4)"/>
<rect x="261.7" y="246.5" width="243.1" height="120.9" filter="url(#streak)" opacity="0.13"/>
<rect x="261.7" y="246.5" width="243.1" height="120.9" filter="url(#streakw)" opacity="0.16"/>
<rect x="261.7" y="246.5" width="243.1" height="120.9" filter="url(#grain)" opacity="0.25"/>
</g>
<ellipse cx="382.6" cy="307.1" rx="39.4" ry="20.1" fill="none" stroke="#fff" stroke-width="3.3" stroke-dasharray="6.6 4.05"/>
<rect x="475" y="354.7" width="25" height="3.2" fill="#fff"/>
<g clip-path="url(#fcb)">
<rect x="509.1" y="246.5" width="243.1" height="120.9" fill="#050550"/>
<rect x="509.1" y="246.5" width="243.1" height="120.9" filter="url(#nb)" opacity="0.8"/>
<ellipse cx="630.8" cy="309" rx="36" ry="16" fill="#1a1aa6" opacity="0.85" filter="url(#bl2_5)"/>
<ellipse cx="640" cy="316" rx="20" ry="4" fill="#2c2cd8" opacity="0.4" filter="url(#bl2_5)"/>
<ellipse cx="526" cy="258" rx="9" ry="4" fill="#2a2ab8" opacity="0.6" filter="url(#bl2_5)"/>
<rect x="509.1" y="350" width="243.1" height="18" fill="#000030" opacity="0.35" filter="url(#bl4)"/>
</g>
<ellipse cx="630.8" cy="308.9" rx="39.4" ry="19.8" fill="none" stroke="#fff" stroke-width="3.3" stroke-dasharray="6.6 4.05"/>
<rect x="722.4" y="356.2" width="25.100000000000023" height="3.2" fill="#fff"/>
<g clip-path="url(#fcm)">
<rect x="754.3" y="246.5" width="243.1" height="120.9" fill="#5f8a22"/>
<rect x="754.3" y="246.5" width="243.1" height="120.9" filter="url(#nm)"/>
<ellipse cx="835" cy="264" rx="85" ry="14" fill="#d0a848" opacity="0.5" filter="url(#bl6)"/>
<ellipse cx="800" cy="256" rx="45" ry="7" fill="#e0a040" opacity="0.4" filter="url(#bl4)"/>
<ellipse cx="954" cy="305" rx="24" ry="11" fill="#d0a040" opacity="0.5" filter="url(#bl4)"/>
<ellipse cx="800" cy="300" rx="45" ry="9" fill="#b0a838" opacity="0.25" filter="url(#bl4)"/>
<rect x="754.3" y="336" width="243.1" height="32" fill="#0c2004" opacity="0.25" filter="url(#bl4)"/>
<rect x="749.3" y="346.5" width="253.1" height="8" fill="#122806" opacity="0.7" filter="url(#bl2_5)"/>
<ellipse cx="962" cy="323" rx="15.600000000000001" ry="12" fill="#1a3008" opacity="0.5" filter="url(#bl4)"/>
<ellipse cx="777" cy="315" rx="10.4" ry="8" fill="#1a3008" opacity="0.5" filter="url(#bl4)"/>
<ellipse cx="932" cy="253" rx="13.0" ry="10" fill="#1a3008" opacity="0.5" filter="url(#bl4)"/>
<ellipse cx="975" cy="300" rx="10.4" ry="8" fill="#1a3008" opacity="0.5" filter="url(#bl4)"/>
<ellipse cx="770" cy="251.7" rx="3" ry="3" fill="#f08a28" opacity="0.9" filter="url(#bl1_2)"/>
<ellipse cx="776.4" cy="251" rx="3" ry="3" fill="#f08a28" opacity="0.9" filter="url(#bl1_2)"/>
<ellipse cx="794.6" cy="251" rx="2.6" ry="2.6" fill="#f08a28" opacity="0.9" filter="url(#bl1_2)"/>
<ellipse cx="802.4" cy="250.4" rx="2.6" ry="2.6" fill="#f08a28" opacity="0.9" filter="url(#bl1_2)"/>
<ellipse cx="814" cy="249" rx="3" ry="3" fill="#f08a28" opacity="0.9" filter="url(#bl1_2)"/>
<ellipse cx="843" cy="250" rx="2.5" ry="2.5" fill="#f08a28" opacity="0.9" filter="url(#bl1_2)"/>
<ellipse cx="786.8" cy="307" rx="3.8" ry="3.8" fill="#f08a28" opacity="0.9" filter="url(#bl1_2)"/>
<ellipse cx="808.9" cy="307" rx="4.8" ry="4.8" fill="#f08a28" opacity="0.9" filter="url(#bl1_2)"/>
<ellipse cx="816" cy="302" rx="2" ry="2" fill="#f08a28" opacity="0.9" filter="url(#bl1_2)"/>
<ellipse cx="987" cy="360.4" rx="2" ry="2" fill="#f08a28" opacity="0.9" filter="url(#bl1_2)"/>
<ellipse cx="983" cy="253" rx="2" ry="2" fill="#f08a28" opacity="0.9" filter="url(#bl1_2)"/>
<ellipse cx="830" cy="251.5" rx="7" ry="5" fill="#f0b030" opacity="0.8" filter="url(#bl2_5)"/>
<ellipse cx="879.1" cy="307.1" rx="35" ry="15.5" fill="#5e52a8" opacity="0.85" filter="url(#bl2_5)"/>
<ellipse cx="885" cy="310" rx="18" ry="6" fill="#7a48b0" opacity="0.4" filter="url(#bl2_5)"/>
<circle cx="872" cy="302" r="0.9" fill="#e8308a"/>
<circle cx="884" cy="311" r="0.9" fill="#e8308a"/>
<circle cx="890" cy="306" r="0.9" fill="#e8308a"/>
<circle cx="878" cy="314" r="0.9" fill="#e8308a"/>
<circle cx="868" cy="310" r="0.9" fill="#e8308a"/>
<circle cx="896" cy="300" r="0.9" fill="#e8308a"/>
<rect x="754.3" y="246.5" width="243.1" height="120.9" filter="url(#streak)" opacity="0.2"/>
<rect x="754.3" y="246.5" width="243.1" height="120.9" filter="url(#streakw)" opacity="0.14"/>
<rect x="754.3" y="246.5" width="243.1" height="120.9" filter="url(#grain)" opacity="0.25"/>
</g>
<ellipse cx="879.1" cy="307.1" rx="39.2" ry="20" fill="none" stroke="#fff" stroke-width="3.3" stroke-dasharray="6.6 4.05"/>
<rect x="967.5" y="356.2" width="24.299999999999955" height="3.2" fill="#fff"/>
<text x="949.5" y="345.3" font-size="16" fill="#fff">10µm</text>
</g>
<g id="panelB">
<text x="3.2" y="441.2" font-size="47" fill="#000" font-weight="700" textLength="31.4" lengthAdjust="spacingAndGlyphs">B</text>
<text x="177.7" y="472.7" font-size="32" fill="#000" font-weight="700">P &lt; 0.005</text>
<line x1="146.2" y1="473.5" x2="146.2" y2="953" stroke="#000" stroke-width="3.5" stroke-linecap="round"/>
<line x1="131" y1="949.3" x2="336" y2="949.3" stroke="#000" stroke-width="3.5" stroke-linecap="round"/>
<line x1="130.5" y1="476.79999999999995" x2="146.2" y2="476.79999999999995" stroke="#000" stroke-width="3.5" stroke-linecap="round"/>
<text x="118.3" y="487.4" font-size="30" fill="#000" font-weight="700" text-anchor="end">15</text>
<line x1="130.5" y1="634.3" x2="146.2" y2="634.3" stroke="#000" stroke-width="3.5" stroke-linecap="round"/>
<text x="118.3" y="644.9" font-size="30" fill="#000" font-weight="700" text-anchor="end">10</text>
<line x1="130.5" y1="791.8" x2="146.2" y2="791.8" stroke="#000" stroke-width="3.5" stroke-linecap="round"/>
<text x="118.3" y="802.4" font-size="30" fill="#000" font-weight="700" text-anchor="end">5</text>
<text x="120.3" y="959.9" font-size="30" fill="#000" font-weight="700" text-anchor="end">0</text>
<line x1="192.2" y1="949.3" x2="192.2" y2="965" stroke="#000" stroke-width="3.5" stroke-linecap="round"/>
<line x1="285.6" y1="949.3" x2="285.6" y2="965" stroke="#000" stroke-width="3.5" stroke-linecap="round"/>
<text x="195.3" y="997" font-size="29.5" fill="#000" font-weight="700" text-anchor="middle">Con</text>
<text x="287.6" y="997" font-size="29.5" fill="#67209c" font-weight="700" text-anchor="middle">LMNA</text>
<text transform="translate(60.5,715.5) rotate(-90)" font-size="35.5" font-weight="700" text-anchor="middle" textLength="264" lengthAdjust="spacingAndGlyphs">Telomere levels</text>
<circle cx="192.2" cy="509.3" r="9.6" fill="none" stroke="#cbcbcb" stroke-width="2.8"/>
<circle cx="192.2" cy="621.6" r="9.6" fill="none" stroke="#cbcbcb" stroke-width="2.8"/>
<circle cx="188.4" cy="650" r="9.6" fill="none" stroke="#cbcbcb" stroke-width="2.8"/>
<circle cx="196.2" cy="659.6" r="9.6" fill="none" stroke="#cbcbcb" stroke-width="2.8"/>
<circle cx="184" cy="700" r="9.6" fill="none" stroke="#cbcbcb" stroke-width="2.8"/>
<circle cx="199.6" cy="701" r="9.6" fill="none" stroke="#cbcbcb" stroke-width="2.8"/>
<circle cx="192.4" cy="723.6" r="9.6" fill="none" stroke="#cbcbcb" stroke-width="2.8"/>
<circle cx="181" cy="728.4" r="9.6" fill="none" stroke="#cbcbcb" stroke-width="2.8"/>
<circle cx="204" cy="731" r="9.6" fill="none" stroke="#cbcbcb" stroke-width="2.8"/>
<circle cx="211" cy="745" r="9.6" fill="none" stroke="#cbcbcb" stroke-width="2.8"/>
<circle cx="173.2" cy="755.6" r="9.6" fill="none" stroke="#cbcbcb" stroke-width="2.8"/>
<circle cx="184.6" cy="781.6" r="9.6" fill="none" stroke="#cbcbcb" stroke-width="2.8"/>
<circle cx="192" cy="804" r="9.6" fill="none" stroke="#cbcbcb" stroke-width="2.8"/>
<circle cx="199.6" cy="804.4" r="9.6" fill="none" stroke="#cbcbcb" stroke-width="2.8"/>
<circle cx="188.6" cy="825" r="9.6" fill="none" stroke="#cbcbcb" stroke-width="2.8"/>
<circle cx="196.2" cy="835" r="9.6" fill="none" stroke="#cbcbcb" stroke-width="2.8"/>
<path d="M165 949.3 V728 H219.5 V949.3" fill="none" stroke="#000" stroke-width="3"/>
<line x1="192.4" y1="705.4" x2="192.4" y2="743.4" stroke="#000" stroke-width="3.4" stroke-linecap="butt"/>
<line x1="176" y1="705.4" x2="209" y2="705.4" stroke="#000" stroke-width="3.4" stroke-linecap="round"/>
<line x1="176" y1="743.4" x2="209" y2="743.4" stroke="#000" stroke-width="3.4" stroke-linecap="round"/>
<circle cx="285.4" cy="736" r="9.5" fill="none" stroke="#b41fff" stroke-width="3"/>
<circle cx="266.8" cy="747.6" r="9.5" fill="none" stroke="#b41fff" stroke-width="3"/>
<circle cx="304.6" cy="749" r="9.5" fill="none" stroke="#b41fff" stroke-width="3"/>
<circle cx="279.4" cy="755.6" r="9.5" fill="none" stroke="#b41fff" stroke-width="3"/>
<circle cx="292" cy="766.6" r="9.5" fill="none" stroke="#b41fff" stroke-width="3"/>
<circle cx="278" cy="803" r="9.5" fill="none" stroke="#b41fff" stroke-width="3"/>
<circle cx="292" cy="812" r="9.5" fill="none" stroke="#b41fff" stroke-width="3"/>
<circle cx="273" cy="836.6" r="9.5" fill="none" stroke="#b41fff" stroke-width="3"/>
<circle cx="298" cy="833.6" r="9.5" fill="none" stroke="#b41fff" stroke-width="3"/>
<circle cx="273" cy="862.4" r="9.5" fill="none" stroke="#b41fff" stroke-width="3"/>
<circle cx="285.6" cy="860" r="9.5" fill="none" stroke="#b41fff" stroke-width="3"/>
<circle cx="285.6" cy="878" r="9.5" fill="none" stroke="#b41fff" stroke-width="3"/>
<circle cx="298" cy="889" r="9.5" fill="none" stroke="#b41fff" stroke-width="3"/>
<path d="M258.4 949.3 V813.5 H313 V949.3" fill="none" stroke="#6a1fa0" stroke-width="3"/>
<line x1="285.6" y1="795" x2="285.6" y2="825" stroke="#6b1680" stroke-width="3.4" stroke-linecap="butt"/>
<line x1="270" y1="795" x2="301.5" y2="795" stroke="#6b1680" stroke-width="3.4" stroke-linecap="round"/>
<line x1="270" y1="825" x2="301.5" y2="825" stroke="#6b1680" stroke-width="3.4" stroke-linecap="round"/>
</g>
<g id="panelC">
<text x="362" y="441.6" font-size="48" fill="#000" font-weight="700" textLength="31.6" lengthAdjust="spacingAndGlyphs">C</text>
<text x="647.7" y="473.2" font-size="32" fill="#000" font-weight="700">P &lt; 0.05</text>
<line x1="513.4" y1="472.5" x2="513.4" y2="951" stroke="#000" stroke-width="3.5" stroke-linecap="round"/>
<line x1="493" y1="947.4" x2="888" y2="947.4" stroke="#000" stroke-width="3.5" stroke-linecap="round"/>
<line x1="492.5" y1="474.9" x2="513.4" y2="474.9" stroke="#000" stroke-width="3.5" stroke-linecap="round"/>
<text x="481.5" y="485.5" font-size="30" fill="#000" font-weight="700" text-anchor="end">15</text>
<line x1="492.5" y1="632.4" x2="513.4" y2="632.4" stroke="#000" stroke-width="3.5" stroke-linecap="round"/>
<text x="481.5" y="643.0" font-size="30" fill="#000" font-weight="700" text-anchor="end">10</text>
<line x1="492.5" y1="789.9" x2="513.4" y2="789.9" stroke="#000" stroke-width="3.5" stroke-linecap="round"/>
<text x="481.5" y="800.5" font-size="30" fill="#000" font-weight="700" text-anchor="end">5</text>
<text x="483.8" y="958.0" font-size="30" fill="#000" font-weight="700" text-anchor="end">0</text>
<line x1="569.8" y1="947.4" x2="569.8" y2="967.5" stroke="#000" stroke-width="3.5" stroke-linecap="round"/>
<line x1="655.4" y1="947.4" x2="655.4" y2="967.5" stroke="#000" stroke-width="3.5" stroke-linecap="round"/>
<line x1="741" y1="947.4" x2="741" y2="967.5" stroke="#000" stroke-width="3.5" stroke-linecap="round"/>
<line x1="827.5" y1="947.4" x2="827.5" y2="967.5" stroke="#000" stroke-width="3.5" stroke-linecap="round"/>
<text x="567.5" y="995.5" font-size="26" fill="#000" font-weight="700" text-anchor="middle">Con</text>
<text x="642.5" y="995.5" font-size="26" fill="#e8231c" font-weight="700" text-anchor="middle">DCM</text>
<text x="736.5" y="995.5" font-size="26" fill="#5b9df5" font-weight="700" text-anchor="middle">LGMD1B</text>
<text x="836.5" y="995.5" font-size="26" fill="#70f5ba" font-weight="700" text-anchor="middle">EDMD</text>
<text transform="translate(426.3,700.3) rotate(-90)" font-size="35.5" font-weight="700" text-anchor="middle" textLength="264" lengthAdjust="spacingAndGlyphs">Telomere levels</text>
<circle cx="569.6" cy="506.4" r="7.4" fill="none" stroke="#cbcbcb" stroke-width="2.6"/>
<circle cx="569.6" cy="619.4" r="7.4" fill="none" stroke="#cbcbcb" stroke-width="2.6"/>
<circle cx="563.4" cy="648" r="7.4" fill="none" stroke="#cbcbcb" stroke-width="2.6"/>
<circle cx="576.4" cy="657.4" r="7.4" fill="none" stroke="#cbcbcb" stroke-width="2.6"/>
<circle cx="563.4" cy="698" r="7.4" fill="none" stroke="#cbcbcb" stroke-width="2.6"/>
<circle cx="576.4" cy="699.4" r="7.4" fill="none" stroke="#cbcbcb" stroke-width="2.6"/>
<circle cx="557" cy="720.4" r="7.4" fill="none" stroke="#cbcbcb" stroke-width="2.6"/>
<circle cx="569.6" cy="728" r="7.4" fill="none" stroke="#cbcbcb" stroke-width="2.6"/>
<circle cx="563" cy="733" r="7.4" fill="none" stroke="#cbcbcb" stroke-width="2.6"/>
<circle cx="582.4" cy="726" r="7.4" fill="none" stroke="#cbcbcb" stroke-width="2.6"/>
<circle cx="589" cy="743" r="7.4" fill="none" stroke="#cbcbcb" stroke-width="2.6"/>
<circle cx="550" cy="753.4" r="7.4" fill="none" stroke="#cbcbcb" stroke-width="2.6"/>
<circle cx="569.6" cy="779.4" r="7.4" fill="none" stroke="#cbcbcb" stroke-width="2.6"/>
<circle cx="563.4" cy="801.6" r="7.4" fill="none" stroke="#cbcbcb" stroke-width="2.6"/>
<circle cx="576.4" cy="802" r="7.4" fill="none" stroke="#cbcbcb" stroke-width="2.6"/>
<circle cx="563.4" cy="822.4" r="7.4" fill="none" stroke="#cbcbcb" stroke-width="2.6"/>
<circle cx="576.4" cy="832.4" r="7.4" fill="none" stroke="#cbcbcb" stroke-width="2.6"/>
<circle cx="655.6" cy="753" r="7.4" fill="none" stroke="#cbcbcb" stroke-width="2.6"/>
<circle cx="655.6" cy="834" r="7.4" fill="none" stroke="#cbcbcb" stroke-width="2.6"/>
<circle cx="740" cy="734" r="7.4" fill="none" stroke="#cbcbcb" stroke-width="2.6"/>
<circle cx="726" cy="747" r="7.4" fill="none" stroke="#cbcbcb" stroke-width="2.6"/>
<circle cx="754" cy="763.6" r="7.4" fill="none" stroke="#cbcbcb" stroke-width="2.6"/>
<circle cx="740" cy="801" r="7.4" fill="none" stroke="#cbcbcb" stroke-width="2.6"/>
<circle cx="740" cy="831.4" r="7.4" fill="none" stroke="#cbcbcb" stroke-width="2.6"/>
<circle cx="740" cy="858.4" r="7.4" fill="none" stroke="#cbcbcb" stroke-width="2.6"/>
<circle cx="827.2" cy="766" r="7.4" fill="none" stroke="#cbcbcb" stroke-width="2.6"/>
<circle cx="827.2" cy="812.4" r="7.4" fill="none" stroke="#cbcbcb" stroke-width="2.6"/>
<circle cx="813" cy="861.6" r="7.4" fill="none" stroke="#cbcbcb" stroke-width="2.6"/>
<circle cx="841.4" cy="877" r="7.4" fill="none" stroke="#cbcbcb" stroke-width="2.6"/>
<path d="M545 947.4 V726 H594.4 V947.4" fill="none" stroke="#000" stroke-width="3"/>
<line x1="569.6" y1="703.6" x2="569.6" y2="741" stroke="#000" stroke-width="3.2" stroke-linecap="butt"/>
<line x1="554.6" y1="703.6" x2="584.6" y2="703.6" stroke="#000" stroke-width="3.2" stroke-linecap="round"/>
<line x1="554.6" y1="741" x2="584.6" y2="741" stroke="#000" stroke-width="3.2" stroke-linecap="round"/>
<path d="M630.6 947.4 V796.6 H680 V947.4" fill="none" stroke="#ff1a0d" stroke-width="3"/>
<line x1="655.6" y1="753" x2="655.6" y2="833.6" stroke="#ff1a0d" stroke-width="3.2" stroke-linecap="butt"/>
<line x1="640.6" y1="753" x2="670.6" y2="753" stroke="#ff1a0d" stroke-width="3.2" stroke-linecap="round"/>
<line x1="640.6" y1="833.6" x2="670.6" y2="833.6" stroke="#ff1a0d" stroke-width="3.2" stroke-linecap="round"/>
<path d="M715.4 947.4 V793 H764.6 V947.4" fill="none" stroke="#5b9df8" stroke-width="3"/>
<line x1="740" y1="769" x2="740" y2="809" stroke="#5b9df8" stroke-width="3.2" stroke-linecap="butt"/>
<line x1="725" y1="769" x2="755" y2="769" stroke="#5b9df8" stroke-width="3.2" stroke-linecap="round"/>
<line x1="725" y1="809" x2="755" y2="809" stroke="#5b9df8" stroke-width="3.2" stroke-linecap="round"/>
<path d="M802.6 947.4 V829.6 H852 V947.4" fill="none" stroke="#70f5ba" stroke-width="3"/>
<line x1="827.2" y1="804" x2="827.2" y2="854.4" stroke="#70f5ba" stroke-width="3.2" stroke-linecap="butt"/>
<line x1="812.2" y1="804" x2="842.2" y2="804" stroke="#70f5ba" stroke-width="3.2" stroke-linecap="round"/>
<line x1="812.2" y1="854.4" x2="842.2" y2="854.4" stroke="#70f5ba" stroke-width="3.2" stroke-linecap="round"/>
</g>
<g id="panelD">
<text x="-0.8" y="1069" font-size="47" fill="#000" font-weight="700" textLength="31.2" lengthAdjust="spacingAndGlyphs">D</text>
<line x1="141.2" y1="1097.5" x2="141.2" y2="1592.5" stroke="#000" stroke-width="3.5" stroke-linecap="round"/>
<line x1="121" y1="1572.3" x2="852" y2="1572.3" stroke="#000" stroke-width="3.5" stroke-linecap="round"/>
<text x="115.6" y="1582.2" font-size="29" fill="#000" font-weight="700" text-anchor="end">0</text>
<line x1="121" y1="1477.74" x2="141.2" y2="1477.74" stroke="#000" stroke-width="3.5" stroke-linecap="round"/>
<text x="115.6" y="1487.64" font-size="29" fill="#000" font-weight="700" text-anchor="end">2</text>
<line x1="121" y1="1383.1799999999998" x2="141.2" y2="1383.1799999999998" stroke="#000" stroke-width="3.5" stroke-linecap="round"/>
<text x="115.6" y="1393.08" font-size="29" fill="#000" font-weight="700" text-anchor="end">4</text>
<line x1="121" y1="1288.62" x2="141.2" y2="1288.62" stroke="#000" stroke-width="3.5" stroke-linecap="round"/>
<text x="115.6" y="1298.52" font-size="29" fill="#000" font-weight="700" text-anchor="end">6</text>
<line x1="121" y1="1194.06" x2="141.2" y2="1194.06" stroke="#000" stroke-width="3.5" stroke-linecap="round"/>
<text x="115.6" y="1203.96" font-size="29" fill="#000" font-weight="700" text-anchor="end">8</text>
<line x1="121" y1="1099.5" x2="141.2" y2="1099.5" stroke="#000" stroke-width="3.5" stroke-linecap="round"/>
<text x="112.6" y="1109.4" font-size="29" fill="#000" font-weight="700" text-anchor="end">10</text>
<text x="140.7" y="1626.4" font-size="29" fill="#000" font-weight="700" text-anchor="middle">0</text>
<line x1="318.3" y1="1572.3" x2="318.3" y2="1592.5" stroke="#000" stroke-width="3.5" stroke-linecap="round"/>
<text x="317.8" y="1626.4" font-size="29" fill="#000" font-weight="700" text-anchor="middle">20</text>
<line x1="495.40000000000003" y1="1572.3" x2="495.40000000000003" y2="1592.5" stroke="#000" stroke-width="3.5" stroke-linecap="round"/>
<text x="494.90000000000003" y="1626.4" font-size="29" fill="#000" font-weight="700" text-anchor="middle">40</text>
<line x1="672.5" y1="1572.3" x2="672.5" y2="1592.5" stroke="#000" stroke-width="3.5" stroke-linecap="round"/>
<text x="672.0" y="1626.4" font-size="29" fill="#000" font-weight="700" text-anchor="middle">60</text>
<line x1="849.6000000000001" y1="1572.3" x2="849.6000000000001" y2="1592.5" stroke="#000" stroke-width="3.5" stroke-linecap="round"/>
<text x="849.1000000000001" y="1626.4" font-size="29" fill="#000" font-weight="700" text-anchor="middle">80</text>
<text x="493.1" y="1680.2" font-size="36" fill="#000" font-weight="700" text-anchor="middle">Age</text>
<text transform="translate(60.6,1327.3) rotate(-90)" font-size="35.5" font-weight="700" text-anchor="middle" textLength="259" lengthAdjust="spacingAndGlyphs">Telomere levels</text>
<circle cx="184.9" cy="1121.8" r="11.2" fill="#999999"/>
<text x="205.5" y="1131.3" font-size="25.2" fill="#7a7a7a">Healthy</text>
<circle cx="184.9" cy="1158.8" r="9.5" fill="none" stroke="#ff1a0d" stroke-width="3"/>
<text x="205.3" y="1167.8" font-size="26" fill="#ff1f12">DCM-CD</text>
<circle cx="184.9" cy="1191.4" r="9.5" fill="none" stroke="#5b9df8" stroke-width="3"/>
<text x="205.3" y="1200.4" font-size="26" fill="#5b9df8">LGMD1B</text>
<circle cx="184.9" cy="1222.6" r="9.5" fill="none" stroke="#70f5ba" stroke-width="3"/>
<text x="205.3" y="1231.4" font-size="26" fill="#70f5ba">EDMD</text>
<line x1="321.7" y1="1151" x2="321.7" y2="1239.5" stroke="#84199a" stroke-width="3.2" stroke-linecap="butt"/>
<text transform="translate(350.3,1194) rotate(-90)" font-size="26" fill="#84199a" text-anchor="middle">LMNA</text>
<line x1="475" y1="1247.7" x2="644.5" y2="1245.8" stroke="#999999" stroke-width="3" stroke-linecap="round"/>
<line x1="574" y1="1261" x2="689" y2="1385" stroke="#5b9df8" stroke-width="3.3" stroke-linecap="round"/>
<line x1="300" y1="1326.5" x2="645" y2="1450" stroke="#70f5ba" stroke-width="3.3" stroke-linecap="round"/>
<circle cx="557.5" cy="1201" r="10.8" fill="#999999"/>
<circle cx="450.5" cy="1241.5" r="10.8" fill="#999999"/>
<circle cx="468.5" cy="1254" r="10.8" fill="#999999"/>
<circle cx="504" cy="1281" r="10.8" fill="#999999"/>
<circle cx="592.5" cy="1241.5" r="10.8" fill="#999999"/>
<circle cx="645.6" cy="1265.2" r="10.8" fill="#999999"/>
<circle cx="574" cy="1252.5" r="9.4" fill="none" stroke="#5b9df8" stroke-width="3.2"/>
<circle cx="672" cy="1271" r="9.4" fill="none" stroke="#5b9df8" stroke-width="3.2"/>
<circle cx="619" cy="1296.5" r="9.4" fill="none" stroke="#5b9df8" stroke-width="3.2"/>
<circle cx="627.5" cy="1352.5" r="9.4" fill="none" stroke="#5b9df8" stroke-width="3.2"/>
<circle cx="690" cy="1397.5" r="9.4" fill="none" stroke="#5b9df8" stroke-width="3.2"/>
<circle cx="663.2" cy="1438.2" r="9.4" fill="none" stroke="#5b9df8" stroke-width="3.2"/>
<circle cx="380" cy="1298.5" r="9.4" fill="none" stroke="#70f5ba" stroke-width="3.2"/>
<circle cx="300" cy="1368" r="9.4" fill="none" stroke="#70f5ba" stroke-width="3.2"/>
<circle cx="645.5" cy="1441" r="9.4" fill="none" stroke="#70f5ba" stroke-width="3.2"/>
<circle cx="610" cy="1465" r="9.4" fill="none" stroke="#70f5ba" stroke-width="3.2"/>
<circle cx="610" cy="1280.5" r="9.4" fill="none" stroke="#ff1a0d" stroke-width="3.3"/>
<circle cx="583.5" cy="1401.5" r="9.4" fill="none" stroke="#ff1a0d" stroke-width="3.3"/>
<path d="M539.6 1474 L548.3 1490.3 H530.9 Z" fill="none" stroke="#5b9df8" stroke-width="3.1" stroke-linejoin="round"/>
<text x="619" y="1194.2" font-size="26" fill="#7a7a7a">Healthy</text>
<text x="620.5" y="1221.5" font-size="26" fill="#9a9a9a">y = 0.002x+6.775</text>
<text x="664" y="1313.1" font-size="26" fill="#5b9df8">LGMD1B</text>
<text x="665.5" y="1334.9" font-size="26" fill="#5b9df8">y = -0.200x+16.300</text>
<text x="287" y="1410" font-size="26" fill="#70f5ba">EDMD</text>
<text x="288.5" y="1431" font-size="26" fill="#70f5ba">y = -0.068 x+6.423</text>
<text x="641.5" y="1528.6" font-size="26" fill="#84199a">Total LMNA</text>
<text x="641.5" y="1555" font-size="26" fill="#84199a">y = -0.014x+5.086</text>
</g>
</svg>
</body></html>
